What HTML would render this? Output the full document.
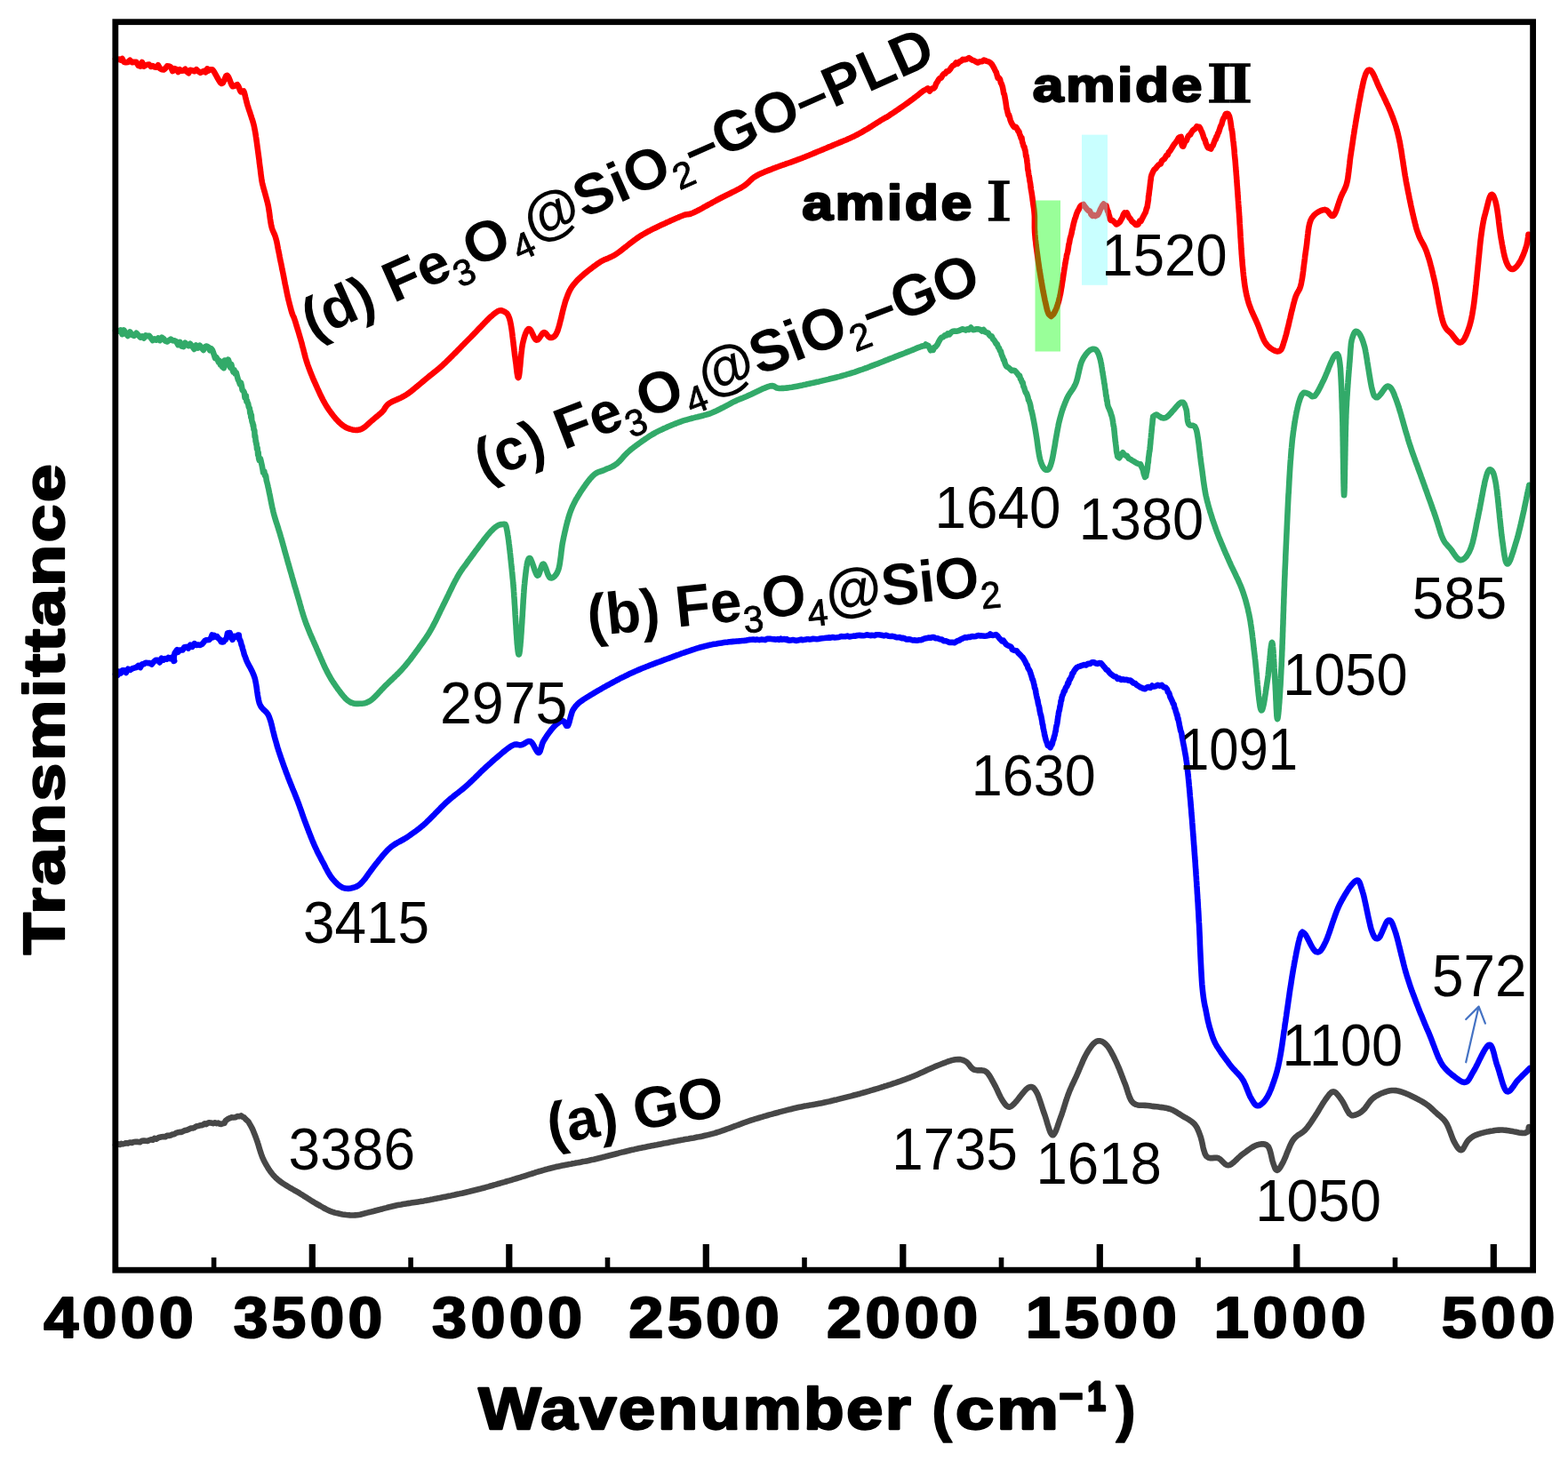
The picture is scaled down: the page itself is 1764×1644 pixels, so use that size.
<!DOCTYPE html>
<html><head><meta charset="utf-8"><title>FTIR spectra</title>
<style>html,body{margin:0;padding:0;background:#fff;overflow:hidden}svg{display:block}</style></head>
<body><svg width="1764" height="1644" viewBox="0 0 1764 1644">
<rect width="1764" height="1644" fill="#fff"/>
<path d="M130.0,1288.5 L132.3,1287.8 L133.5,1287.4 L134.8,1288.0 L136.4,1286.9 L138.1,1287.4 L140.0,1286.9 L141.9,1286.2 L144.0,1286.6 L146.2,1285.6 L148.4,1285.9 L150.7,1285.0 L152.9,1284.7 L155.2,1284.9 L157.5,1285.2 L159.7,1283.8 L161.9,1283.5 L164.0,1283.8 L165.9,1283.9 L167.9,1283.0 L169.9,1282.3 L171.8,1282.8 L173.8,1280.9 L175.8,1281.7 L177.8,1280.4 L179.8,1279.7 L181.9,1279.2 L183.9,1279.0 L185.9,1279.3 L187.9,1277.8 L190.0,1277.9 L192.0,1277.5 L194.0,1276.5 L196.0,1276.2 L198.0,1274.9 L200.0,1274.3 L202.1,1273.9 L204.2,1273.9 L206.3,1272.8 L208.5,1271.9 L210.6,1271.5 L212.8,1270.5 L214.9,1269.5 L217.0,1269.5 L219.1,1268.6 L221.2,1267.2 L223.2,1267.0 L225.1,1266.3 L226.9,1266.3 L228.7,1265.5 L230.4,1264.3 L232.0,1265.1 L234.8,1263.2 L237.3,1263.5 L239.7,1264.1 L241.8,1263.3 L243.8,1264.1 L245.6,1263.6 L247.2,1264.7 L248.8,1264.9 L250.2,1264.4 L252.5,1263.8 L253.7,1261.3 L254.9,1260.2 L257.0,1258.8 L258.6,1258.2 L260.5,1257.4 L262.6,1257.5 L264.8,1257.2 L267.0,1256.1 L269.2,1256.3 L271.2,1255.4 L272.9,1256.7 L274.8,1257.6 L276.5,1259.5 L278.0,1260.9 L279.4,1262.0 L280.7,1264.4 L282.0,1266.6 L283.0,1268.3 L283.8,1270.0 L284.7,1271.9 L285.5,1273.9 L286.3,1275.9 L287.1,1278.0 L287.9,1280.2 L288.7,1282.4 L289.4,1284.3 L290.0,1286.3 L290.7,1288.4 L291.3,1290.5 L291.9,1292.6 L292.6,1294.8 L293.3,1296.9 L294.0,1299.0 L294.7,1301.0 L295.5,1302.9 L296.4,1304.9 L297.3,1306.8 L298.3,1308.7 L299.3,1310.5 L300.3,1312.2 L301.3,1313.9 L302.4,1315.6 L303.5,1317.2 L304.6,1318.7 L305.8,1320.3 L307.0,1321.8 L308.2,1323.2 L309.5,1324.5 L310.8,1325.8 L312.3,1327.1 L314.0,1328.5 L316.0,1330.0 L317.4,1331.0 L318.9,1332.0 L320.5,1333.0 L322.3,1334.1 L324.1,1335.2 L325.9,1336.3 L327.8,1337.4 L329.7,1338.5 L331.6,1339.6 L333.5,1340.7 L335.3,1341.7 L337.0,1342.7 L338.6,1343.7 L340.6,1344.9 L342.5,1346.2 L344.4,1347.3 L346.2,1348.5 L348.0,1349.6 L349.7,1350.8 L351.5,1351.9 L353.2,1352.9 L355.0,1354.0 L356.8,1355.0 L358.6,1356.0 L360.4,1357.0 L362.1,1358.0 L363.8,1359.0 L365.6,1360.0 L367.3,1360.9 L369.1,1361.8 L371.0,1362.6 L372.9,1363.3 L374.9,1364.0 L376.8,1364.6 L378.8,1365.1 L380.9,1365.5 L383.0,1366.0 L385.2,1366.4 L387.3,1366.7 L389.5,1367.0 L391.6,1367.2 L393.7,1367.4 L395.7,1367.5 L397.6,1367.5 L399.7,1367.4 L401.7,1367.3 L403.5,1367.0 L405.2,1366.7 L407.0,1366.2 L408.8,1365.8 L410.8,1365.2 L413.1,1364.6 L415.7,1364.0 L417.3,1363.6 L419.0,1363.2 L420.8,1362.8 L422.6,1362.3 L424.6,1361.8 L426.5,1361.3 L428.5,1360.7 L430.6,1360.2 L432.7,1359.6 L434.8,1359.1 L436.9,1358.5 L439.1,1358.0 L441.2,1357.5 L443.3,1357.0 L445.4,1356.5 L447.5,1356.1 L449.4,1355.7 L451.3,1355.4 L453.2,1355.0 L455.0,1354.7 L456.9,1354.4 L458.8,1354.1 L460.6,1353.9 L462.5,1353.6 L464.4,1353.3 L466.4,1353.0 L468.3,1352.7 L470.4,1352.4 L472.5,1352.1 L474.6,1351.7 L476.8,1351.4 L479.1,1350.9 L481.5,1350.5 L483.2,1350.2 L485.0,1349.8 L486.9,1349.5 L488.8,1349.1 L490.7,1348.7 L492.7,1348.3 L494.7,1347.9 L496.7,1347.5 L498.8,1347.1 L500.8,1346.7 L502.9,1346.3 L505.0,1345.8 L507.2,1345.4 L509.3,1344.9 L511.4,1344.5 L513.5,1344.0 L515.6,1343.6 L517.8,1343.1 L519.8,1342.7 L521.9,1342.2 L524.0,1341.7 L526.0,1341.2 L528.0,1340.8 L530.0,1340.3 L532.0,1339.8 L534.1,1339.3 L536.1,1338.8 L538.1,1338.3 L540.1,1337.8 L542.1,1337.2 L544.0,1336.7 L546.0,1336.2 L548.0,1335.6 L550.0,1335.1 L551.9,1334.5 L553.9,1334.0 L555.8,1333.4 L557.8,1332.9 L559.7,1332.3 L561.7,1331.8 L563.6,1331.2 L565.6,1330.6 L567.5,1330.1 L569.5,1329.5 L571.5,1328.9 L573.4,1328.4 L575.4,1327.8 L577.4,1327.2 L579.3,1326.6 L581.3,1326.0 L583.3,1325.4 L585.3,1324.8 L587.2,1324.2 L589.2,1323.6 L591.2,1323.0 L593.1,1322.3 L595.1,1321.7 L597.1,1321.1 L599.0,1320.5 L601.0,1319.9 L603.0,1319.2 L604.9,1318.6 L606.9,1318.0 L608.9,1317.5 L610.9,1316.9 L612.8,1316.3 L614.8,1315.8 L616.8,1315.2 L618.7,1314.7 L620.7,1314.2 L622.7,1313.7 L624.6,1313.3 L626.6,1312.8 L628.6,1312.4 L630.5,1312.0 L632.5,1311.6 L634.5,1311.2 L636.5,1310.8 L638.4,1310.4 L640.4,1310.0 L642.4,1309.7 L644.3,1309.3 L646.3,1309.0 L648.3,1308.6 L650.2,1308.3 L652.2,1307.9 L654.2,1307.5 L656.1,1307.1 L658.1,1306.8 L660.1,1306.4 L662.1,1306.0 L664.0,1305.5 L666.0,1305.1 L668.0,1304.7 L669.9,1304.2 L671.9,1303.7 L673.9,1303.2 L675.9,1302.7 L677.8,1302.3 L679.8,1301.8 L681.8,1301.2 L683.8,1300.7 L685.7,1300.2 L687.7,1299.7 L689.7,1299.2 L691.7,1298.7 L693.6,1298.2 L695.6,1297.7 L697.6,1297.1 L699.6,1296.6 L701.5,1296.2 L703.5,1295.7 L705.5,1295.2 L707.5,1294.7 L709.4,1294.2 L711.4,1293.8 L713.4,1293.4 L715.3,1292.9 L717.3,1292.5 L719.3,1292.1 L721.3,1291.7 L723.2,1291.3 L725.2,1290.9 L727.2,1290.5 L729.2,1290.1 L731.1,1289.7 L733.1,1289.3 L735.1,1288.9 L737.1,1288.5 L739.0,1288.2 L741.0,1287.8 L743.0,1287.4 L745.0,1287.0 L746.9,1286.6 L748.9,1286.3 L750.9,1285.9 L752.9,1285.5 L754.8,1285.1 L756.8,1284.7 L758.8,1284.3 L760.7,1283.9 L762.7,1283.6 L764.7,1283.2 L766.7,1282.8 L768.6,1282.5 L770.6,1282.1 L772.6,1281.8 L774.5,1281.5 L776.5,1281.1 L778.5,1280.7 L780.4,1280.4 L782.4,1280.0 L784.4,1279.6 L786.3,1279.3 L788.3,1278.9 L790.3,1278.5 L792.2,1278.0 L794.2,1277.6 L796.2,1277.1 L798.2,1276.6 L800.1,1276.1 L802.1,1275.6 L804.0,1275.1 L805.9,1274.5 L807.8,1273.9 L809.7,1273.3 L811.6,1272.7 L813.4,1272.0 L815.3,1271.4 L817.2,1270.7 L819.1,1270.0 L821.0,1269.3 L822.9,1268.6 L824.8,1267.9 L826.7,1267.2 L828.6,1266.5 L830.5,1265.8 L832.4,1265.1 L834.3,1264.4 L836.2,1263.7 L838.0,1263.0 L839.9,1262.3 L841.8,1261.7 L843.7,1261.0 L845.6,1260.4 L847.5,1259.8 L849.5,1259.2 L851.5,1258.6 L853.5,1258.0 L855.5,1257.4 L857.5,1256.8 L859.5,1256.2 L861.6,1255.6 L863.6,1255.0 L865.6,1254.4 L867.6,1253.9 L869.7,1253.3 L871.7,1252.7 L873.7,1252.2 L875.7,1251.7 L877.6,1251.1 L879.6,1250.6 L881.6,1250.1 L883.5,1249.6 L885.4,1249.1 L887.3,1248.6 L889.2,1248.2 L891.0,1247.7 L892.8,1247.3 L895.1,1246.8 L897.2,1246.3 L899.4,1245.8 L901.5,1245.4 L903.5,1245.0 L905.5,1244.6 L907.5,1244.3 L909.4,1243.9 L911.4,1243.6 L913.3,1243.3 L915.3,1242.9 L917.3,1242.6 L919.3,1242.2 L921.3,1241.8 L923.4,1241.4 L925.6,1241.0 L927.7,1240.5 L930.0,1240.0 L931.8,1239.6 L933.7,1239.2 L935.5,1238.7 L937.4,1238.3 L939.3,1237.8 L941.3,1237.4 L943.2,1236.9 L945.2,1236.4 L947.2,1235.9 L949.2,1235.4 L951.2,1234.9 L953.2,1234.4 L955.2,1233.9 L957.3,1233.4 L959.3,1232.8 L961.3,1232.3 L963.4,1231.8 L965.4,1231.2 L967.4,1230.7 L969.4,1230.1 L971.4,1229.5 L973.4,1229.0 L975.4,1228.4 L977.4,1227.8 L979.4,1227.2 L981.4,1226.6 L983.4,1226.0 L985.5,1225.4 L987.5,1224.8 L989.6,1224.2 L991.6,1223.5 L993.7,1222.9 L995.7,1222.2 L997.7,1221.6 L999.8,1220.9 L1001.8,1220.3 L1003.8,1219.6 L1005.8,1218.9 L1007.7,1218.3 L1009.7,1217.6 L1011.6,1217.0 L1013.5,1216.3 L1015.3,1215.6 L1017.2,1215.0 L1019.0,1214.3 L1020.7,1213.7 L1022.9,1212.9 L1025.0,1212.0 L1027.2,1211.2 L1029.3,1210.3 L1031.3,1209.4 L1033.4,1208.5 L1035.4,1207.6 L1037.3,1206.7 L1039.3,1205.9 L1041.1,1205.0 L1043.0,1204.1 L1044.8,1203.3 L1046.6,1202.5 L1048.3,1201.7 L1050.0,1201.0 L1051.6,1200.3 L1053.2,1199.6 L1054.7,1199.0 L1057.3,1198.0 L1059.8,1197.0 L1062.1,1196.1 L1064.3,1195.3 L1066.3,1194.5 L1068.2,1193.9 L1070.1,1193.3 L1071.8,1192.9 L1073.5,1192.5 L1075.1,1192.2 L1078.0,1192.0 L1080.4,1192.1 L1082.5,1192.6 L1084.5,1193.4 L1086.5,1194.4 L1088.1,1195.6 L1089.5,1197.2 L1090.9,1198.9 L1092.2,1200.7 L1093.8,1202.3 L1095.5,1203.5 L1097.6,1204.1 L1099.9,1204.4 L1102.3,1204.4 L1104.7,1204.4 L1107.0,1204.8 L1109.1,1205.8 L1110.5,1206.9 L1111.7,1208.3 L1112.8,1209.9 L1113.9,1211.6 L1115.0,1213.5 L1116.0,1215.4 L1117.1,1217.4 L1118.2,1219.4 L1119.1,1221.1 L1120.1,1222.9 L1121.0,1224.8 L1122.0,1226.8 L1122.9,1228.8 L1123.8,1230.8 L1124.7,1232.7 L1125.6,1234.5 L1126.5,1236.1 L1127.3,1237.5 L1128.8,1239.9 L1130.2,1241.9 L1131.5,1243.5 L1132.8,1244.7 L1134.1,1245.4 L1136.0,1245.6 L1138.0,1244.6 L1140.9,1242.0 L1141.9,1240.9 L1143.1,1239.6 L1144.4,1238.0 L1145.8,1236.2 L1147.2,1234.4 L1148.7,1232.5 L1150.2,1230.6 L1151.7,1228.8 L1153.1,1227.2 L1154.4,1225.8 L1155.7,1224.7 L1156.8,1223.9 L1159.0,1223.0 L1160.9,1223.1 L1162.5,1224.0 L1164.1,1225.8 L1165.8,1228.4 L1166.5,1229.7 L1167.2,1231.1 L1167.9,1232.8 L1168.6,1234.6 L1169.3,1236.6 L1170.0,1238.6 L1170.7,1240.8 L1171.4,1242.9 L1172.1,1245.1 L1172.8,1247.3 L1173.5,1249.4 L1174.2,1251.5 L1174.9,1253.4 L1175.7,1255.6 L1176.4,1257.9 L1177.2,1260.4 L1177.9,1263.0 L1178.7,1265.6 L1179.5,1268.1 L1180.2,1270.4 L1181.0,1272.5 L1181.7,1274.3 L1182.5,1275.7 L1183.2,1276.7 L1184.0,1277.2 L1184.9,1277.1 L1185.8,1276.2 L1186.7,1274.8 L1187.6,1273.0 L1188.5,1270.7 L1189.4,1268.3 L1190.3,1265.6 L1191.2,1263.0 L1192.1,1260.3 L1193.0,1257.9 L1193.6,1256.2 L1194.3,1254.4 L1194.9,1252.5 L1195.6,1250.5 L1196.2,1248.5 L1196.9,1246.4 L1197.5,1244.4 L1198.2,1242.3 L1198.8,1240.2 L1199.5,1238.2 L1200.1,1236.2 L1200.8,1234.3 L1201.4,1232.5 L1202.1,1230.7 L1202.9,1228.6 L1203.7,1226.6 L1204.5,1224.8 L1205.3,1223.0 L1206.1,1221.2 L1206.9,1219.5 L1207.7,1217.8 L1208.6,1216.0 L1209.4,1214.2 L1210.3,1212.3 L1211.2,1210.3 L1212.0,1208.5 L1212.8,1206.6 L1213.7,1204.6 L1214.5,1202.6 L1215.4,1200.5 L1216.3,1198.5 L1217.2,1196.4 L1218.0,1194.4 L1218.9,1192.4 L1219.8,1190.5 L1220.7,1188.7 L1221.6,1187.0 L1222.5,1185.4 L1223.9,1183.0 L1225.3,1180.8 L1226.8,1178.6 L1228.2,1176.7 L1229.6,1175.0 L1231.1,1173.6 L1232.5,1172.5 L1233.9,1171.7 L1235.8,1171.2 L1237.7,1171.3 L1239.6,1171.9 L1241.4,1172.9 L1243.3,1174.4 L1245.2,1176.3 L1246.2,1177.6 L1247.3,1179.0 L1248.3,1180.7 L1249.4,1182.5 L1250.5,1184.4 L1251.5,1186.4 L1252.6,1188.4 L1253.6,1190.5 L1254.6,1192.6 L1255.6,1194.7 L1256.5,1196.7 L1257.3,1198.5 L1258.1,1200.4 L1258.9,1202.2 L1259.7,1204.1 L1260.4,1206.1 L1261.2,1208.0 L1261.9,1209.9 L1262.6,1211.8 L1263.4,1213.8 L1264.1,1215.7 L1264.8,1217.5 L1265.6,1219.4 L1266.4,1221.5 L1267.1,1223.6 L1267.8,1225.8 L1268.5,1228.1 L1269.2,1230.3 L1270.0,1232.4 L1270.7,1234.5 L1271.6,1236.4 L1272.5,1238.1 L1273.5,1239.6 L1274.7,1240.9 L1276.3,1242.1 L1278.0,1242.9 L1279.9,1243.4 L1281.9,1243.7 L1283.9,1243.8 L1286.1,1243.8 L1288.3,1243.9 L1290.5,1244.0 L1292.8,1244.3 L1294.7,1244.6 L1296.8,1244.9 L1298.9,1245.1 L1301.1,1245.3 L1303.3,1245.6 L1305.5,1245.9 L1307.7,1246.1 L1309.8,1246.4 L1311.8,1246.8 L1313.7,1247.2 L1315.5,1247.7 L1317.7,1248.5 L1319.7,1249.3 L1321.6,1250.3 L1323.3,1251.3 L1325.0,1252.4 L1326.6,1253.4 L1328.3,1254.5 L1330.0,1255.6 L1331.8,1256.6 L1333.6,1257.7 L1335.5,1258.7 L1337.3,1259.8 L1339.0,1260.9 L1340.7,1262.1 L1342.2,1263.3 L1343.6,1264.7 L1344.9,1266.3 L1346.0,1268.0 L1347.0,1269.7 L1347.8,1271.6 L1348.7,1273.6 L1349.5,1275.8 L1350.4,1278.3 L1351.0,1280.1 L1351.5,1282.1 L1352.1,1284.4 L1352.6,1286.7 L1353.1,1289.2 L1353.6,1291.5 L1354.2,1293.9 L1354.9,1296.0 L1355.5,1298.0 L1356.3,1299.7 L1357.2,1301.0 L1359.1,1302.5 L1361.3,1303.1 L1363.7,1303.1 L1366.2,1302.9 L1368.6,1302.8 L1370.8,1303.3 L1372.8,1304.5 L1374.6,1306.3 L1376.4,1308.2 L1378.2,1309.9 L1380.1,1311.0 L1382.2,1311.2 L1383.6,1310.8 L1385.1,1310.0 L1386.6,1308.9 L1388.2,1307.6 L1389.8,1306.1 L1391.5,1304.5 L1393.1,1302.9 L1394.8,1301.4 L1396.4,1299.9 L1398.0,1298.7 L1399.8,1297.4 L1401.6,1296.1 L1403.4,1294.7 L1405.2,1293.4 L1407.1,1292.1 L1408.8,1291.0 L1410.6,1290.0 L1412.3,1289.1 L1413.9,1288.5 L1416.3,1287.8 L1418.6,1287.4 L1420.8,1287.3 L1422.9,1287.6 L1424.8,1288.4 L1426.4,1289.7 L1427.3,1291.0 L1428.1,1292.8 L1428.8,1294.8 L1429.4,1297.1 L1430.0,1299.4 L1430.5,1301.8 L1431.0,1304.1 L1431.5,1306.1 L1432.0,1307.8 L1432.9,1310.5 L1433.8,1313.0 L1434.6,1315.0 L1435.6,1316.4 L1436.6,1316.9 L1437.7,1316.5 L1438.9,1315.3 L1440.3,1313.5 L1441.7,1310.9 L1443.4,1307.8 L1444.1,1306.4 L1444.9,1304.7 L1445.7,1302.9 L1446.5,1300.9 L1447.3,1298.8 L1448.2,1296.6 L1449.1,1294.4 L1450.0,1292.2 L1450.9,1290.1 L1451.8,1288.0 L1452.8,1286.1 L1453.7,1284.4 L1454.7,1282.9 L1456.3,1280.9 L1458.0,1279.2 L1459.7,1277.8 L1461.5,1276.6 L1463.3,1275.5 L1465.0,1274.3 L1466.7,1273.0 L1468.3,1271.5 L1469.7,1269.9 L1471.0,1268.3 L1472.3,1266.6 L1473.5,1264.9 L1474.8,1263.1 L1476.0,1261.2 L1477.2,1259.4 L1478.4,1257.5 L1479.7,1255.6 L1480.8,1253.8 L1482.0,1252.0 L1483.2,1250.0 L1484.3,1248.1 L1485.5,1246.1 L1486.7,1244.2 L1487.8,1242.3 L1488.9,1240.6 L1490.0,1239.0 L1491.0,1237.5 L1492.6,1235.3 L1494.2,1233.1 L1495.6,1231.2 L1497.1,1229.8 L1498.5,1228.8 L1500.0,1228.4 L1501.5,1228.8 L1503.0,1229.8 L1504.5,1231.4 L1506.1,1233.3 L1507.6,1235.4 L1509.1,1237.5 L1510.1,1239.0 L1511.2,1240.9 L1512.2,1242.8 L1513.3,1244.9 L1514.3,1247.0 L1515.3,1248.9 L1516.3,1250.7 L1517.3,1252.2 L1518.2,1253.4 L1520.6,1255.1 L1522.6,1255.2 L1525.0,1254.5 L1526.6,1253.9 L1528.4,1253.1 L1530.2,1252.0 L1532.1,1250.6 L1534.1,1248.8 L1535.4,1247.4 L1536.6,1245.8 L1537.9,1244.0 L1539.2,1242.1 L1540.6,1240.2 L1542.0,1238.4 L1543.6,1236.7 L1545.4,1235.2 L1547.1,1234.0 L1549.0,1232.9 L1551.0,1231.8 L1553.1,1230.7 L1555.3,1229.8 L1557.5,1229.0 L1559.6,1228.3 L1561.6,1227.7 L1563.6,1227.3 L1565.9,1227.0 L1568.1,1227.0 L1570.2,1227.1 L1572.3,1227.4 L1574.5,1228.0 L1576.8,1228.7 L1579.4,1229.6 L1581.1,1230.2 L1582.9,1231.0 L1584.8,1231.8 L1586.8,1232.7 L1588.8,1233.7 L1590.9,1234.7 L1592.9,1235.7 L1595.0,1236.8 L1596.9,1237.9 L1598.8,1238.9 L1600.5,1239.9 L1602.1,1240.9 L1604.3,1242.3 L1606.2,1243.7 L1608.0,1245.1 L1609.6,1246.5 L1611.2,1248.0 L1612.7,1249.4 L1614.2,1250.8 L1615.7,1252.2 L1617.2,1253.6 L1618.7,1254.8 L1620.2,1256.0 L1621.6,1257.3 L1623.0,1258.6 L1624.4,1260.0 L1625.7,1261.7 L1627.0,1263.6 L1627.9,1265.2 L1628.8,1267.1 L1629.7,1269.1 L1630.5,1271.2 L1631.4,1273.4 L1632.2,1275.6 L1633.0,1277.8 L1633.8,1279.9 L1634.5,1281.8 L1635.3,1283.6 L1636.1,1285.1 L1637.5,1287.6 L1638.8,1289.8 L1640.1,1291.7 L1641.4,1293.1 L1642.7,1294.0 L1644.0,1294.2 L1645.3,1293.4 L1646.5,1291.8 L1647.8,1289.5 L1649.1,1287.1 L1650.5,1284.8 L1652.0,1282.9 L1653.5,1281.5 L1655.0,1280.2 L1656.6,1279.1 L1658.4,1278.0 L1660.6,1277.1 L1663.3,1276.1 L1664.9,1275.6 L1666.6,1275.1 L1668.5,1274.6 L1670.5,1274.1 L1672.6,1273.6 L1674.8,1273.2 L1677.0,1272.7 L1679.3,1272.4 L1681.6,1272.0 L1683.8,1271.8 L1686.1,1271.6 L1688.3,1271.5 L1690.4,1271.5 L1692.6,1271.7 L1694.9,1271.9 L1697.3,1272.3 L1699.6,1272.7 L1702.0,1273.1 L1704.3,1273.6 L1706.6,1274.0 L1708.7,1274.4 L1710.7,1274.7 L1712.5,1274.9 L1714.1,1275.0 L1715.5,1274.9 L1718.3,1273.7 L1719.5,1271.7 L1719.7,1269.5 L1720.0,1268.0" fill="none" stroke="#474747" stroke-width="6.6" stroke-linejoin="round" stroke-linecap="round"/>
<path d="M130.0,758.5 L131.1,756.9 L132.5,759.7 L134.0,755.6 L135.8,757.6 L137.6,754.2 L139.7,754.3 L141.8,756.9 L144.0,752.7 L146.3,753.9 L148.6,752.4 L151.0,751.6 L153.3,751.0 L155.6,749.0 L157.8,751.1 L160.0,747.2 L162.1,747.2 L164.0,745.7 L166.2,746.1 L168.4,746.1 L170.6,747.6 L172.9,744.7 L175.2,742.8 L177.4,742.8 L179.7,745.4 L181.8,740.7 L183.9,742.6 L185.9,741.0 L187.7,741.8 L189.4,740.0 L191.0,741.2 L192.3,740.1 L193.5,740.6 L196.1,743.7 L195.5,743.9 L195.7,740.7 L195.5,738.2 L195.5,739.5 L196.6,734.9 L199.2,731.2 L200.4,733.8 L201.9,731.5 L203.6,731.5 L205.4,731.5 L207.4,728.2 L209.6,727.9 L211.8,729.5 L214.1,725.6 L216.4,727.7 L218.7,724.1 L221.0,726.0 L223.2,725.5 L225.3,725.9 L227.3,724.9 L229.0,722.8 L230.6,720.9 L232.0,720.2 L235.3,720.0 L237.3,718.0 L238.6,714.5 L239.7,717.1 L241.1,715.0 L242.6,716.6 L244.2,716.2 L245.8,718.4 L247.3,719.4 L248.8,722.3 L250.2,722.5 L251.5,722.3 L252.7,720.2 L253.9,719.8 L255.0,717.6 L256.0,712.4 L257.0,712.2 L258.6,712.0 L260.0,716.8 L261.5,719.9 L263.6,715.8 L265.8,716.7 L267.8,714.6 L268.7,714.6 L269.4,719.7 L270.1,720.2 L270.8,722.1 L271.7,726.0 L272.3,726.9 L272.9,729.7 L273.6,731.9 L274.2,733.9 L274.9,736.9 L275.7,738.7 L276.5,741.0 L277.4,743.3 L278.2,745.1 L279.1,746.9 L280.0,748.6 L281.0,750.4 L282.0,752.2 L282.9,754.0 L283.9,756.0 L284.8,758.1 L285.7,760.3 L286.5,762.6 L287.0,764.4 L287.4,766.4 L287.8,768.5 L288.2,770.7 L288.6,773.0 L288.9,775.3 L289.2,777.7 L289.6,780.0 L289.9,782.3 L290.3,784.5 L290.7,786.6 L291.1,788.5 L291.6,790.4 L292.1,792.0 L293.2,794.4 L294.4,796.2 L295.7,797.7 L297.1,799.1 L298.5,800.3 L299.9,801.7 L301.2,803.4 L302.3,805.5 L303.0,807.2 L303.6,809.0 L304.3,811.0 L304.9,813.0 L305.4,815.2 L306.0,817.4 L306.5,819.6 L307.0,821.8 L307.6,824.0 L308.1,826.1 L308.6,828.1 L309.1,830.0 L309.7,832.1 L310.3,834.1 L310.8,835.9 L311.3,837.7 L311.8,839.5 L312.3,841.2 L312.9,843.0 L313.5,845.0 L314.2,847.0 L314.9,849.2 L315.5,850.9 L316.1,852.7 L316.7,854.5 L317.4,856.4 L318.1,858.3 L318.8,860.3 L319.5,862.3 L320.2,864.3 L321.0,866.3 L321.7,868.3 L322.4,870.3 L323.2,872.2 L323.9,874.1 L324.6,876.0 L325.4,877.9 L326.1,879.9 L326.9,881.7 L327.6,883.6 L328.4,885.4 L329.1,887.2 L329.9,889.1 L330.6,890.9 L331.4,892.7 L332.1,894.6 L332.9,896.5 L333.6,898.4 L334.4,900.3 L335.1,902.1 L335.8,904.0 L336.5,905.9 L337.2,907.8 L337.9,909.8 L338.6,911.7 L339.3,913.6 L339.9,915.6 L340.6,917.5 L341.3,919.5 L342.0,921.4 L342.7,923.3 L343.4,925.2 L344.1,927.0 L344.8,929.0 L345.6,930.9 L346.3,932.9 L347.1,934.8 L347.8,936.8 L348.6,938.7 L349.3,940.6 L350.1,942.5 L350.8,944.3 L351.6,946.2 L352.3,947.9 L353.1,949.7 L353.8,951.4 L354.8,953.6 L355.8,955.7 L356.7,957.7 L357.7,959.7 L358.7,961.6 L359.7,963.5 L360.7,965.4 L361.6,967.2 L362.6,969.1 L363.6,970.9 L364.7,972.9 L365.7,975.0 L366.7,977.0 L367.8,979.0 L368.8,980.9 L369.9,982.8 L371.0,984.6 L372.1,986.3 L373.3,987.9 L374.7,989.6 L376.2,991.3 L377.7,992.9 L379.2,994.4 L380.8,995.8 L382.4,997.0 L384.0,998.0 L385.5,998.8 L387.5,999.5 L389.6,999.8 L391.7,999.9 L393.7,999.7 L395.7,999.3 L397.6,998.8 L399.6,998.2 L401.5,997.4 L403.2,996.4 L405.2,994.9 L407.4,992.7 L408.4,991.5 L409.5,990.2 L410.7,988.8 L411.8,987.2 L413.0,985.6 L414.2,983.8 L415.5,982.1 L416.8,980.3 L418.1,978.5 L419.4,976.7 L420.7,975.0 L422.0,973.3 L423.3,971.7 L424.7,970.0 L426.0,968.3 L427.4,966.5 L428.8,964.8 L430.2,963.1 L431.6,961.4 L433.1,959.8 L434.5,958.2 L436.0,956.6 L437.5,955.2 L439.0,953.8 L440.7,952.4 L442.4,951.2 L444.1,950.0 L445.9,949.0 L447.7,947.9 L449.5,947.0 L451.3,946.0 L453.1,945.0 L454.9,944.0 L456.7,942.9 L458.5,941.7 L460.1,940.6 L461.7,939.5 L463.2,938.4 L464.8,937.3 L466.3,936.2 L467.9,935.1 L469.5,933.9 L471.1,932.7 L472.7,931.4 L474.4,930.0 L476.1,928.6 L477.9,927.0 L479.2,925.8 L480.5,924.5 L481.9,923.2 L483.3,921.8 L484.7,920.4 L486.2,918.9 L487.7,917.4 L489.1,915.9 L490.6,914.3 L492.1,912.8 L493.6,911.3 L495.1,909.8 L496.5,908.3 L498.0,906.8 L499.5,905.4 L500.9,904.0 L502.3,902.7 L504.0,901.2 L505.7,899.7 L507.3,898.3 L509.0,897.0 L510.7,895.6 L512.3,894.3 L514.0,893.0 L515.6,891.8 L517.2,890.5 L518.9,889.2 L520.5,887.9 L522.1,886.5 L523.8,885.1 L525.4,883.7 L526.9,882.3 L528.4,880.9 L529.9,879.5 L531.3,878.1 L532.8,876.7 L534.3,875.3 L535.7,873.8 L537.2,872.3 L538.7,870.9 L540.1,869.4 L541.7,867.9 L543.2,866.4 L544.8,865.0 L546.4,863.5 L548.0,862.0 L549.5,860.7 L551.1,859.3 L552.7,857.8 L554.4,856.3 L556.1,854.8 L557.9,853.3 L559.7,851.7 L561.4,850.2 L563.2,848.7 L564.9,847.3 L566.6,845.9 L568.2,844.6 L569.8,843.3 L571.3,842.2 L572.7,841.2 L574.0,840.3 L575.2,839.5 L578.5,837.9 L581.0,837.6 L582.9,838.0 L584.6,838.4 L586.6,838.3 L588.7,837.4 L590.8,836.1 L592.9,834.8 L594.8,834.0 L596.8,834.2 L598.2,835.4 L599.6,837.4 L601.0,839.9 L602.3,842.4 L603.6,844.7 L604.8,846.4 L605.9,847.0 L606.8,846.5 L607.6,845.2 L608.2,843.3 L608.9,841.0 L609.6,838.5 L610.4,836.0 L611.5,833.8 L612.5,832.1 L613.7,830.3 L614.9,828.4 L616.2,826.5 L617.6,824.6 L619.0,822.7 L620.3,821.0 L621.7,819.4 L622.9,818.0 L624.7,816.2 L626.5,814.5 L628.3,813.2 L630.0,812.1 L631.6,811.3 L633.0,811.0 L634.7,812.1 L636.1,814.7 L637.3,816.8 L638.7,816.8 L639.3,815.9 L639.8,814.5 L640.4,812.7 L640.9,810.6 L641.5,808.4 L642.1,806.0 L642.8,803.7 L643.5,801.4 L644.4,799.3 L645.5,797.5 L646.6,796.0 L647.6,794.6 L648.7,793.4 L649.8,792.2 L651.0,791.1 L652.5,789.9 L654.2,788.7 L656.2,787.3 L658.6,785.8 L661.4,784.0 L662.7,783.2 L664.0,782.4 L665.5,781.5 L667.0,780.6 L668.6,779.6 L670.3,778.6 L672.0,777.6 L673.7,776.6 L675.6,775.6 L677.4,774.5 L679.3,773.4 L681.3,772.3 L683.2,771.2 L685.2,770.2 L687.2,769.1 L689.2,768.0 L691.3,766.9 L693.3,765.8 L695.3,764.8 L697.3,763.7 L699.2,762.7 L701.2,761.8 L703.1,760.8 L705.0,759.9 L706.8,759.0 L708.7,758.1 L710.6,757.2 L712.5,756.4 L714.4,755.5 L716.2,754.7 L718.1,753.9 L720.0,753.1 L721.9,752.3 L723.8,751.5 L725.7,750.8 L727.6,750.0 L729.5,749.3 L731.3,748.5 L733.2,747.8 L735.1,747.1 L737.0,746.4 L738.9,745.7 L740.8,745.0 L742.7,744.3 L744.5,743.6 L746.4,742.9 L748.3,742.2 L750.2,741.5 L752.1,740.8 L754.1,740.1 L756.0,739.4 L758.0,738.6 L760.0,737.9 L762.0,737.2 L763.9,736.5 L765.9,735.7 L767.9,735.0 L769.9,734.3 L771.8,733.6 L773.8,733.0 L775.8,732.3 L777.8,731.6 L779.7,731.0 L781.7,730.3 L783.7,729.7 L785.7,729.1 L787.6,728.5 L789.6,728.0 L791.6,727.5 L793.6,726.9 L795.5,726.5 L797.5,726.0 L799.6,725.6 L801.7,725.1 L803.7,724.7 L805.9,724.4 L808.0,724.0 L810.1,723.7 L812.2,723.4 L814.3,723.1 L816.4,722.8 L818.6,722.6 L820.7,722.3 L822.8,722.1 L824.9,721.9 L826.9,721.7 L829.0,721.5 L831.0,721.4 L833.1,721.2 L835.1,721.0 L837.0,720.9 L839.0,720.7 L840.9,720.3 L842.8,719.9 L845.1,719.7 L847.4,719.6 L849.7,720.0 L851.9,719.6 L854.2,720.1 L856.4,719.6 L858.6,719.8 L860.8,720.1 L863.0,718.9 L865.1,718.8 L867.2,718.9 L869.2,719.2 L871.1,719.4 L873.0,719.6 L874.9,719.1 L876.7,719.9 L878.4,718.7 L880.0,719.7 L882.4,719.0 L884.0,719.9 L885.2,719.1 L886.1,720.4 L887.0,720.3 L888.1,720.8 L889.7,720.4 L892.1,720.0 L895.4,720.9 L900.0,720.1 L901.3,719.6 L902.7,720.2 L904.2,720.0 L905.8,719.8 L907.4,719.3 L909.2,719.2 L911.0,719.6 L912.9,719.3 L914.8,718.8 L916.8,719.0 L918.9,719.2 L921.0,719.0 L923.1,718.5 L925.3,718.2 L927.5,718.0 L929.8,717.7 L932.1,717.4 L934.4,717.6 L936.8,717.0 L939.1,717.5 L941.5,717.3 L943.8,717.0 L946.2,716.1 L948.6,716.3 L950.9,716.2 L953.3,715.6 L955.6,716.5 L957.9,716.1 L960.2,715.6 L962.5,715.7 L964.7,715.0 L966.9,714.9 L969.1,715.1 L971.2,715.3 L973.2,715.0 L975.2,714.2 L977.2,714.8 L979.0,715.1 L980.8,714.9 L982.6,715.0 L984.2,715.1 L985.8,714.2 L988.8,714.3 L991.7,714.7 L994.4,715.4 L997.0,714.8 L999.5,715.8 L1001.9,716.0 L1004.1,715.9 L1006.3,716.4 L1008.4,717.1 L1010.4,717.3 L1012.3,717.1 L1014.2,718.2 L1016.0,717.8 L1017.7,718.4 L1019.4,719.4 L1021.0,719.6 L1022.6,719.3 L1024.1,719.5 L1025.7,720.1 L1027.2,720.5 L1028.7,720.4 L1031.6,720.7 L1034.1,720.3 L1036.3,720.1 L1038.2,719.4 L1040.0,718.6 L1041.6,718.2 L1043.2,717.9 L1044.9,717.6 L1046.7,717.8 L1048.7,717.1 L1050.7,717.1 L1052.8,718.3 L1054.9,718.3 L1057.1,719.2 L1059.4,719.5 L1061.6,721.1 L1063.7,721.2 L1065.8,721.8 L1067.8,722.9 L1069.7,722.9 L1071.5,722.7 L1073.8,723.2 L1075.7,722.0 L1077.3,721.1 L1078.9,720.8 L1080.7,719.5 L1082.9,718.5 L1085.8,717.1 L1087.4,717.5 L1089.3,716.9 L1091.3,716.9 L1093.5,716.0 L1095.8,716.2 L1098.1,715.9 L1100.5,715.0 L1102.9,715.4 L1105.3,715.5 L1107.7,715.8 L1109.9,715.5 L1112.0,715.1 L1114.0,713.5 L1115.7,714.7 L1117.3,714.9 L1120.4,714.1 L1122.7,716.1 L1124.4,718.4 L1125.9,719.9 L1127.2,721.4 L1128.7,720.7 L1130.6,723.4 L1132.2,725.4 L1133.8,726.2 L1135.4,726.9 L1137.3,727.7 L1138.8,730.8 L1140.4,731.6 L1142.0,732.0 L1143.7,732.3 L1145.4,734.6 L1147.0,736.2 L1148.7,737.9 L1149.7,739.0 L1150.6,739.8 L1151.6,741.4 L1152.6,743.2 L1153.6,744.9 L1154.6,747.3 L1155.6,748.3 L1156.6,751.8 L1157.5,753.1 L1158.5,754.8 L1159.3,757.4 L1160.2,760.0 L1160.8,761.9 L1161.4,764.5 L1161.9,764.7 L1162.5,766.9 L1163.0,769.1 L1163.5,770.8 L1164.0,774.2 L1164.5,774.8 L1165.0,776.7 L1165.5,780.0 L1166.0,782.6 L1166.5,784.9 L1166.9,786.4 L1167.4,788.0 L1167.9,791.4 L1168.3,793.1 L1168.8,794.5 L1169.3,796.8 L1169.7,799.8 L1170.2,802.1 L1170.6,804.2 L1171.0,804.5 L1171.5,807.2 L1171.9,809.6 L1172.3,811.3 L1172.7,814.9 L1173.2,815.4 L1173.6,819.4 L1174.0,820.7 L1174.4,822.7 L1174.8,824.0 L1175.1,827.0 L1175.5,827.7 L1175.9,829.9 L1176.9,833.5 L1177.9,835.9 L1178.8,839.0 L1179.8,839.4 L1180.7,840.0 L1181.6,841.1 L1182.2,839.8 L1182.8,838.3 L1183.4,837.9 L1184.1,835.7 L1184.7,832.8 L1185.3,832.3 L1185.9,828.9 L1186.6,827.3 L1187.3,823.3 L1187.7,822.7 L1188.0,819.3 L1188.4,817.3 L1188.8,816.0 L1189.2,814.5 L1189.5,812.4 L1189.9,809.8 L1190.3,806.2 L1190.7,804.5 L1191.1,801.3 L1191.5,799.8 L1191.9,798.9 L1192.4,795.3 L1192.8,794.0 L1193.2,791.7 L1193.6,788.6 L1194.1,788.1 L1194.5,785.0 L1195.3,782.5 L1196.1,781.0 L1197.0,777.7 L1197.8,777.6 L1198.7,774.4 L1199.5,773.1 L1200.4,772.2 L1201.3,768.4 L1202.1,768.9 L1203.0,764.9 L1204.0,764.1 L1204.8,762.2 L1205.6,761.0 L1206.4,757.6 L1207.3,757.3 L1208.4,754.9 L1209.8,753.0 L1211.6,750.9 L1213.2,750.2 L1215.0,749.6 L1217.1,748.8 L1219.4,748.1 L1221.7,748.5 L1224.1,746.8 L1226.4,747.0 L1228.7,745.2 L1230.8,745.2 L1232.8,746.5 L1234.5,746.9 L1236.7,746.0 L1238.6,746.3 L1240.2,748.0 L1241.7,749.8 L1243.1,751.4 L1244.5,753.4 L1246.0,754.1 L1247.6,756.2 L1249.2,757.9 L1250.7,759.2 L1252.3,760.4 L1253.9,761.3 L1255.6,761.6 L1257.4,763.9 L1259.3,763.3 L1261.3,765.0 L1263.3,764.3 L1265.4,765.0 L1267.5,764.9 L1269.6,765.7 L1271.7,765.6 L1273.5,767.1 L1275.3,768.6 L1277.1,769.0 L1278.9,770.9 L1280.7,771.9 L1282.4,773.1 L1284.2,773.8 L1286.0,774.7 L1288.0,775.2 L1290.1,773.7 L1292.2,773.0 L1294.2,773.9 L1296.2,771.5 L1298.1,772.6 L1300.0,772.3 L1302.4,770.8 L1304.7,771.6 L1307.0,770.9 L1309.2,773.3 L1311.4,773.8 L1312.2,774.7 L1313.1,775.8 L1313.9,778.8 L1314.8,779.2 L1315.6,781.1 L1316.5,784.5 L1317.3,785.8 L1318.2,787.8 L1319.0,789.5 L1319.8,791.8 L1320.6,792.4 L1321.4,796.6 L1322.2,797.6 L1322.9,801.2 L1323.4,801.8 L1323.9,804.7 L1324.4,804.3 L1324.9,808.6 L1325.4,808.3 L1325.9,811.3 L1326.4,813.2 L1326.9,816.4 L1327.3,817.8 L1327.8,820.5 L1328.2,822.3 L1328.6,823.2 L1329.1,824.6 L1329.5,826.7 L1329.9,830.0 L1330.3,831.5 L1330.7,833.5 L1331.0,835.5 L1331.4,837.4 L1331.8,839.4 L1332.2,841.3 L1332.5,843.1 L1332.8,844.8 L1333.1,846.5 L1333.4,848.1 L1333.7,849.8 L1334.0,851.4 L1334.3,853.1 L1334.5,854.9 L1334.8,856.8 L1335.1,858.9 L1335.4,861.1 L1335.6,863.6 L1335.9,866.2 L1336.3,869.1 L1336.6,872.3 L1336.8,873.8 L1336.9,875.3 L1337.1,876.9 L1337.2,878.6 L1337.4,880.2 L1337.6,882.0 L1337.7,883.8 L1337.9,885.6 L1338.1,887.4 L1338.2,889.3 L1338.4,891.3 L1338.6,893.2 L1338.7,895.2 L1338.9,897.3 L1339.1,899.3 L1339.3,901.4 L1339.5,903.5 L1339.6,905.6 L1339.8,907.8 L1340.0,909.9 L1340.2,912.1 L1340.3,914.3 L1340.5,916.4 L1340.7,918.6 L1340.9,920.8 L1341.1,923.0 L1341.2,925.2 L1341.4,927.4 L1341.6,929.6 L1341.7,931.8 L1341.9,934.0 L1342.1,936.1 L1342.2,938.3 L1342.4,940.4 L1342.6,942.5 L1342.7,944.6 L1342.9,946.7 L1343.0,948.8 L1343.2,950.8 L1343.4,952.8 L1343.5,954.8 L1343.6,956.8 L1343.8,958.8 L1343.9,960.9 L1344.1,962.9 L1344.2,964.9 L1344.4,966.9 L1344.5,968.9 L1344.7,970.9 L1344.8,972.9 L1344.9,974.9 L1345.1,976.9 L1345.2,978.9 L1345.4,981.0 L1345.5,983.0 L1345.6,985.0 L1345.8,987.0 L1345.9,989.0 L1346.0,991.0 L1346.2,993.0 L1346.3,995.0 L1346.4,997.0 L1346.6,999.0 L1346.7,1001.1 L1346.8,1003.1 L1346.9,1005.1 L1347.1,1007.1 L1347.2,1009.1 L1347.3,1011.1 L1347.4,1013.1 L1347.6,1015.1 L1347.7,1017.1 L1347.8,1019.1 L1347.9,1021.2 L1348.0,1023.2 L1348.2,1025.2 L1348.3,1027.2 L1348.4,1029.2 L1348.5,1031.2 L1348.6,1033.3 L1348.7,1035.4 L1348.8,1037.5 L1349.0,1039.6 L1349.1,1041.7 L1349.2,1043.9 L1349.3,1046.1 L1349.4,1048.3 L1349.5,1050.5 L1349.6,1052.7 L1349.7,1054.9 L1349.8,1057.1 L1349.9,1059.3 L1349.9,1061.5 L1350.0,1063.7 L1350.1,1065.9 L1350.2,1068.1 L1350.3,1070.2 L1350.4,1072.4 L1350.5,1074.6 L1350.6,1076.7 L1350.7,1078.8 L1350.8,1080.9 L1350.9,1082.9 L1351.0,1085.0 L1351.1,1086.9 L1351.2,1088.9 L1351.3,1090.8 L1351.4,1092.7 L1351.5,1094.6 L1351.6,1096.4 L1351.7,1098.2 L1351.8,1099.9 L1351.9,1101.6 L1352.0,1103.2 L1352.1,1104.7 L1352.2,1106.2 L1352.3,1107.7 L1352.6,1111.0 L1352.9,1114.0 L1353.2,1116.8 L1353.5,1119.3 L1353.8,1121.6 L1354.1,1123.7 L1354.4,1125.7 L1354.7,1127.5 L1355.0,1129.2 L1355.3,1130.8 L1355.6,1132.4 L1356.0,1133.9 L1356.3,1135.4 L1356.6,1136.9 L1356.9,1138.4 L1357.2,1140.0 L1357.7,1142.5 L1358.1,1144.8 L1358.6,1147.0 L1359.0,1149.1 L1359.5,1151.0 L1360.0,1152.9 L1360.4,1154.7 L1360.9,1156.4 L1361.5,1158.2 L1362.0,1160.0 L1362.7,1162.2 L1363.3,1164.2 L1363.9,1166.1 L1364.6,1168.0 L1365.3,1169.9 L1366.2,1171.9 L1367.2,1174.0 L1368.5,1176.3 L1369.4,1177.9 L1370.5,1179.5 L1371.6,1181.2 L1372.8,1183.0 L1374.0,1184.9 L1375.3,1186.7 L1376.7,1188.6 L1378.0,1190.5 L1379.4,1192.3 L1380.7,1194.1 L1382.0,1195.8 L1383.2,1197.5 L1384.4,1199.0 L1385.9,1200.8 L1387.3,1202.5 L1388.8,1204.1 L1390.2,1205.6 L1391.6,1207.0 L1393.0,1208.5 L1394.3,1209.9 L1395.6,1211.5 L1396.8,1213.1 L1398.0,1214.8 L1399.0,1216.5 L1399.9,1218.4 L1400.8,1220.3 L1401.7,1222.4 L1402.5,1224.4 L1403.3,1226.4 L1404.1,1228.4 L1404.8,1230.3 L1405.6,1232.1 L1406.3,1233.8 L1407.1,1235.2 L1408.5,1237.6 L1409.7,1239.7 L1411.0,1241.6 L1412.2,1243.0 L1413.6,1244.0 L1415.0,1244.3 L1416.6,1244.0 L1418.3,1243.1 L1420.0,1241.6 L1421.8,1239.8 L1423.6,1237.6 L1425.2,1235.2 L1426.1,1233.7 L1426.9,1232.1 L1427.8,1230.4 L1428.6,1228.5 L1429.5,1226.5 L1430.3,1224.5 L1431.1,1222.4 L1431.8,1220.3 L1432.6,1218.2 L1433.3,1216.1 L1434.0,1214.0 L1434.6,1212.2 L1435.2,1210.4 L1435.7,1208.6 L1436.2,1206.9 L1436.7,1205.2 L1437.1,1203.4 L1437.6,1201.5 L1438.1,1199.5 L1438.5,1197.4 L1439.0,1195.1 L1439.5,1192.7 L1440.0,1190.0 L1440.3,1188.4 L1440.6,1186.7 L1440.9,1184.9 L1441.2,1183.1 L1441.5,1181.3 L1441.8,1179.4 L1442.1,1177.4 L1442.4,1175.4 L1442.7,1173.4 L1443.0,1171.3 L1443.3,1169.2 L1443.6,1167.1 L1443.9,1164.9 L1444.2,1162.7 L1444.5,1160.5 L1444.9,1158.3 L1445.2,1156.1 L1445.5,1153.8 L1445.8,1151.5 L1446.2,1149.3 L1446.5,1147.0 L1446.8,1145.1 L1447.1,1143.2 L1447.3,1141.3 L1447.6,1139.3 L1447.9,1137.3 L1448.2,1135.3 L1448.5,1133.2 L1448.8,1131.1 L1449.1,1129.0 L1449.4,1126.9 L1449.7,1124.8 L1450.0,1122.7 L1450.3,1120.6 L1450.6,1118.4 L1450.9,1116.3 L1451.2,1114.2 L1451.5,1112.1 L1451.9,1110.1 L1452.2,1108.0 L1452.5,1106.0 L1452.8,1104.0 L1453.1,1102.0 L1453.4,1100.1 L1453.7,1098.2 L1454.0,1096.4 L1454.3,1094.6 L1454.7,1092.2 L1455.1,1089.7 L1455.6,1087.3 L1456.0,1084.9 L1456.4,1082.5 L1456.9,1080.1 L1457.3,1077.7 L1457.8,1075.4 L1458.2,1073.2 L1458.6,1071.0 L1459.1,1068.8 L1459.5,1066.8 L1459.9,1064.8 L1460.3,1063.0 L1460.7,1061.2 L1461.1,1059.5 L1461.5,1058.0 L1461.8,1056.6 L1462.2,1055.4 L1463.8,1050.2 L1465.2,1048.7 L1467.4,1050.2 L1468.2,1051.1 L1469.2,1052.5 L1470.2,1054.3 L1471.3,1056.4 L1472.4,1058.6 L1473.6,1060.9 L1474.8,1063.2 L1476.0,1065.4 L1477.2,1067.4 L1478.4,1069.0 L1479.5,1070.3 L1480.5,1071.0 L1482.1,1071.4 L1483.5,1071.2 L1484.9,1070.4 L1486.3,1068.9 L1487.7,1066.8 L1489.3,1064.0 L1491.0,1060.6 L1491.6,1059.3 L1492.2,1057.9 L1492.8,1056.4 L1493.5,1054.7 L1494.1,1052.9 L1494.8,1051.1 L1495.5,1049.1 L1496.2,1047.1 L1496.9,1045.0 L1497.6,1042.9 L1498.3,1040.8 L1499.0,1038.6 L1499.8,1036.4 L1500.5,1034.3 L1501.3,1032.1 L1502.0,1030.0 L1502.8,1028.0 L1503.5,1026.0 L1504.3,1024.0 L1505.1,1022.2 L1505.8,1020.4 L1506.6,1018.8 L1507.7,1016.6 L1508.8,1014.4 L1510.0,1012.2 L1511.3,1010.0 L1512.5,1007.8 L1513.8,1005.7 L1515.0,1003.7 L1516.3,1001.7 L1517.5,999.8 L1518.8,998.1 L1519.9,996.5 L1521.1,995.1 L1522.2,993.8 L1523.2,992.8 L1524.1,991.9 L1525.0,991.3 L1526.6,990.6 L1527.9,990.8 L1528.9,991.9 L1529.8,993.6 L1530.7,996.1 L1531.6,999.3 L1532.8,1003.0 L1533.2,1004.4 L1533.7,1006.0 L1534.1,1007.7 L1534.6,1009.6 L1535.0,1011.6 L1535.5,1013.8 L1536.0,1016.0 L1536.5,1018.3 L1537.0,1020.7 L1537.5,1023.1 L1538.0,1025.5 L1538.5,1027.9 L1539.0,1030.3 L1539.5,1032.6 L1540.0,1034.9 L1540.5,1037.1 L1541.0,1039.2 L1541.4,1041.2 L1541.9,1043.0 L1542.3,1044.7 L1542.8,1046.2 L1543.2,1047.5 L1544.9,1051.9 L1546.4,1054.6 L1547.9,1056.0 L1549.4,1056.2 L1551.1,1055.4 L1552.0,1054.5 L1552.9,1053.1 L1553.8,1051.2 L1554.8,1049.0 L1555.8,1046.6 L1556.9,1044.1 L1557.9,1041.8 L1558.9,1039.6 L1559.8,1037.8 L1560.7,1036.5 L1561.6,1035.8 L1562.8,1035.5 L1563.9,1035.8 L1564.9,1036.6 L1565.8,1038.2 L1566.9,1040.5 L1568.0,1043.6 L1569.4,1047.5 L1569.8,1048.8 L1570.3,1050.2 L1570.7,1051.8 L1571.2,1053.4 L1571.7,1055.2 L1572.2,1057.1 L1572.7,1059.0 L1573.2,1061.0 L1573.7,1063.1 L1574.3,1065.3 L1574.8,1067.5 L1575.3,1069.7 L1575.9,1071.9 L1576.4,1074.2 L1577.0,1076.4 L1577.6,1078.7 L1578.1,1080.9 L1578.7,1083.2 L1579.2,1085.3 L1579.8,1087.5 L1580.3,1089.6 L1580.9,1091.6 L1581.4,1093.6 L1582.0,1095.4 L1582.5,1097.2 L1583.2,1099.4 L1583.9,1101.6 L1584.6,1103.8 L1585.3,1105.9 L1585.9,1107.9 L1586.6,1109.9 L1587.3,1111.9 L1588.0,1113.8 L1588.7,1115.8 L1589.4,1117.6 L1590.1,1119.5 L1590.8,1121.3 L1591.5,1123.1 L1592.2,1125.0 L1592.8,1126.7 L1593.5,1128.5 L1594.2,1130.3 L1594.9,1132.1 L1595.6,1133.9 L1596.4,1136.0 L1597.2,1138.1 L1598.0,1140.1 L1598.9,1142.1 L1599.7,1144.1 L1600.5,1146.1 L1601.3,1148.0 L1602.1,1149.9 L1602.9,1151.9 L1603.7,1153.8 L1604.5,1155.7 L1605.3,1157.6 L1606.2,1159.5 L1607.0,1161.4 L1607.8,1163.3 L1608.6,1165.3 L1609.4,1167.3 L1610.2,1169.3 L1611.0,1171.4 L1611.8,1173.5 L1612.6,1175.6 L1613.4,1177.7 L1614.2,1179.8 L1615.0,1181.9 L1615.8,1184.0 L1616.6,1186.0 L1617.4,1188.0 L1618.2,1189.9 L1619.1,1191.7 L1619.9,1193.4 L1620.8,1195.1 L1621.7,1196.6 L1623.0,1198.7 L1624.4,1200.5 L1625.9,1202.3 L1627.4,1203.9 L1628.9,1205.4 L1630.4,1206.7 L1631.9,1208.0 L1633.3,1209.2 L1634.7,1210.3 L1636.1,1211.3 L1637.4,1212.3 L1639.6,1214.0 L1641.7,1215.5 L1643.7,1216.8 L1645.6,1217.6 L1647.4,1217.9 L1649.2,1217.6 L1650.6,1216.8 L1651.8,1215.7 L1652.9,1214.1 L1654.0,1212.2 L1655.2,1209.9 L1656.6,1207.4 L1658.3,1204.5 L1659.2,1203.0 L1660.1,1201.3 L1661.1,1199.3 L1662.2,1197.2 L1663.3,1194.9 L1664.4,1192.5 L1665.6,1190.2 L1666.8,1187.8 L1668.0,1185.5 L1669.1,1183.4 L1670.3,1181.4 L1671.4,1179.6 L1672.5,1178.1 L1673.5,1176.9 L1674.4,1176.1 L1675.3,1175.7 L1676.3,1175.8 L1677.3,1176.5 L1678.1,1177.8 L1678.9,1179.5 L1679.6,1181.6 L1680.3,1183.9 L1681.0,1186.5 L1681.6,1189.1 L1682.3,1191.8 L1683.0,1194.5 L1683.7,1197.0 L1684.5,1199.3 L1685.2,1201.2 L1685.8,1203.2 L1686.5,1205.4 L1687.1,1207.7 L1687.8,1210.0 L1688.5,1212.4 L1689.2,1214.8 L1689.9,1217.1 L1690.6,1219.3 L1691.3,1221.3 L1692.0,1223.2 L1692.7,1224.8 L1693.5,1226.2 L1694.2,1227.3 L1695.0,1228.0 L1696.3,1228.4 L1697.7,1227.9 L1699.1,1226.8 L1700.6,1225.1 L1702.1,1223.1 L1703.6,1220.9 L1705.1,1218.7 L1706.5,1216.7 L1708.0,1215.0 L1709.5,1213.5 L1711.2,1211.8 L1712.8,1210.2 L1714.5,1208.5 L1716.2,1206.8 L1717.7,1205.3 L1719.1,1203.9 L1720.2,1202.8 L1721.1,1201.9" fill="none" stroke="#0000ff" stroke-width="6.6" stroke-linejoin="round" stroke-linecap="round"/>
<path d="M130.0,372.0 L132.8,372.7 L134.1,372.4 L135.7,371.4 L137.5,376.2 L139.4,371.5 L141.6,375.0 L143.8,377.9 L146.2,373.5 L148.6,376.9 L151.0,377.8 L153.4,374.8 L155.7,377.3 L158.0,379.7 L159.9,378.5 L161.9,380.5 L163.8,377.4 L165.8,378.1 L167.8,377.7 L169.8,380.3 L171.8,383.1 L173.9,381.3 L175.9,382.7 L177.9,380.6 L179.9,383.1 L182.0,379.6 L184.0,381.1 L186.0,383.7 L188.0,384.5 L190.1,383.1 L192.1,381.6 L194.2,383.2 L196.2,383.4 L198.3,384.3 L200.4,388.1 L202.4,384.9 L204.4,389.6 L206.4,390.1 L208.4,385.7 L210.3,388.1 L212.2,389.2 L214.0,386.8 L216.3,389.7 L218.5,392.9 L220.6,388.4 L222.8,391.5 L224.9,388.8 L226.9,391.7 L228.8,393.9 L230.7,390.1 L232.6,389.5 L234.3,390.6 L236.0,394.2 L237.6,392.3 L239.1,394.3 L240.6,398.6 L242.0,403.1 L243.4,402.1 L244.6,404.1 L245.8,407.5 L247.0,406.0 L248.0,410.5 L249.1,409.2 L250.0,412.7 L251.8,414.1 L252.8,405.5 L253.9,405.8 L256.0,406.6 L256.7,404.7 L257.5,406.5 L258.4,412.2 L259.3,413.6 L260.3,410.0 L261.3,415.2 L262.4,418.6 L263.5,416.2 L264.6,420.5 L265.7,419.2 L266.8,423.3 L267.9,427.4 L268.9,429.1 L270.0,432.4 L270.9,430.4 L271.8,434.1 L272.7,439.2 L273.4,439.3 L274.1,440.3 L274.8,441.9 L275.5,447.2 L276.1,446.7 L276.8,445.2 L277.4,451.8 L278.0,451.0 L278.6,453.5 L279.2,454.2 L279.7,457.5 L280.3,458.8 L280.8,459.3 L281.3,464.6 L281.8,463.4 L282.3,469.4 L282.8,466.8 L283.3,473.3 L283.8,475.4 L284.3,475.6 L284.7,479.0 L285.1,478.3 L285.5,483.4 L285.9,483.6 L286.3,484.5 L286.6,491.1 L287.0,489.8 L287.3,491.7 L287.6,496.8 L287.9,495.9 L288.3,499.8 L288.6,498.9 L289.0,505.0 L289.3,503.5 L289.7,504.2 L290.2,511.7 L290.6,508.8 L291.1,515.6 L291.7,517.9 L292.3,517.7 L292.9,516.1 L293.5,518.4 L294.1,521.2 L294.8,524.3 L295.4,527.5 L296.1,531.6 L296.7,529.8 L297.3,530.5 L298.0,534.9 L298.6,534.3 L299.2,536.0 L299.8,540.8 L300.3,542.5 L300.8,544.5 L301.3,546.5 L301.7,548.5 L302.2,550.5 L302.6,552.6 L303.0,554.7 L303.5,556.8 L303.9,558.9 L304.3,561.0 L304.7,563.1 L305.1,565.1 L305.5,567.1 L305.9,569.1 L306.3,571.0 L306.8,572.9 L307.2,574.7 L307.6,576.5 L308.2,578.8 L308.8,581.0 L309.4,583.0 L310.0,585.0 L310.6,586.9 L311.2,588.7 L311.8,590.5 L312.4,592.4 L313.0,594.3 L313.6,596.4 L314.3,598.6 L315.0,600.9 L315.5,602.7 L316.0,604.5 L316.6,606.3 L317.1,608.3 L317.7,610.2 L318.2,612.2 L318.8,614.3 L319.4,616.3 L319.9,618.4 L320.5,620.5 L321.1,622.6 L321.7,624.7 L322.3,626.8 L322.9,628.9 L323.4,630.9 L324.0,633.0 L324.6,635.0 L325.2,637.0 L325.7,639.0 L326.3,641.0 L326.9,643.1 L327.5,645.1 L328.1,647.1 L328.6,649.1 L329.2,651.1 L329.8,653.2 L330.4,655.2 L330.9,657.2 L331.5,659.2 L332.1,661.2 L332.7,663.1 L333.3,665.1 L333.8,667.1 L334.4,669.0 L335.0,671.0 L335.6,673.1 L336.2,675.1 L336.8,677.1 L337.3,679.1 L337.9,681.1 L338.5,683.1 L339.0,685.1 L339.6,687.1 L340.2,689.0 L340.8,691.0 L341.4,692.9 L342.0,694.9 L342.7,696.8 L343.3,698.7 L344.0,700.6 L344.7,702.6 L345.5,704.6 L346.3,706.6 L347.1,708.6 L347.9,710.6 L348.7,712.6 L349.6,714.5 L350.4,716.5 L351.3,718.4 L352.1,720.3 L353.0,722.2 L353.8,724.2 L354.6,726.0 L355.5,727.9 L356.3,729.8 L357.2,731.8 L358.0,733.8 L358.9,735.8 L359.8,737.8 L360.6,739.9 L361.5,741.8 L362.4,743.8 L363.2,745.8 L364.1,747.7 L364.9,749.6 L365.8,751.4 L366.7,753.2 L367.5,754.9 L368.4,756.6 L369.5,758.7 L370.6,760.7 L371.7,762.6 L372.8,764.5 L373.9,766.3 L375.0,768.0 L376.2,769.7 L377.3,771.3 L378.4,772.9 L379.5,774.5 L380.6,776.0 L382.0,777.8 L383.3,779.6 L384.7,781.3 L386.0,783.0 L387.4,784.5 L388.7,786.0 L390.1,787.3 L391.4,788.4 L392.8,789.4 L394.8,790.5 L396.9,791.2 L398.9,791.7 L400.9,791.9 L403.0,791.9 L405.0,791.8 L407.0,791.7 L408.8,791.5 L410.7,791.2 L412.6,790.6 L414.7,789.6 L417.0,788.2 L418.2,787.3 L419.5,786.2 L420.8,785.0 L422.2,783.6 L423.6,782.2 L425.0,780.7 L426.5,779.1 L428.0,777.5 L429.4,775.9 L431.0,774.3 L432.5,772.7 L434.0,771.2 L435.4,769.8 L436.9,768.4 L438.4,766.9 L439.9,765.5 L441.5,764.0 L443.0,762.5 L444.6,761.0 L446.1,759.5 L447.7,758.0 L449.2,756.4 L450.7,754.9 L452.2,753.3 L453.6,751.7 L455.0,750.1 L456.4,748.5 L457.7,746.8 L459.1,745.1 L460.4,743.5 L461.8,741.8 L463.1,740.0 L464.4,738.3 L465.6,736.6 L466.9,734.9 L468.1,733.2 L469.4,731.5 L470.6,729.8 L471.8,728.1 L473.0,726.5 L474.1,724.9 L475.3,723.3 L476.4,721.7 L477.5,720.1 L478.6,718.5 L479.7,716.9 L480.8,715.2 L481.9,713.5 L483.0,711.7 L484.1,709.8 L485.2,707.9 L486.1,706.3 L487.0,704.6 L487.9,702.9 L488.8,701.1 L489.8,699.3 L490.7,697.5 L491.6,695.6 L492.5,693.8 L493.4,691.9 L494.3,690.0 L495.2,688.1 L496.1,686.2 L497.1,684.3 L498.0,682.4 L498.9,680.5 L499.8,678.7 L500.7,676.9 L501.6,675.0 L502.6,673.1 L503.5,671.1 L504.5,669.2 L505.4,667.2 L506.3,665.3 L507.3,663.4 L508.2,661.5 L509.1,659.6 L510.0,657.8 L510.9,656.0 L511.8,654.3 L512.7,652.6 L513.6,651.0 L514.4,649.5 L515.6,647.4 L516.7,645.5 L517.7,643.9 L518.6,642.5 L519.6,641.1 L520.6,639.6 L521.7,638.1 L523.0,636.4 L524.5,634.4 L526.2,632.0 L527.1,630.7 L528.2,629.3 L529.3,627.8 L530.5,626.2 L531.7,624.5 L533.0,622.7 L534.3,620.9 L535.7,619.0 L537.1,617.2 L538.5,615.3 L539.9,613.4 L541.3,611.6 L542.7,609.7 L544.0,607.9 L545.4,606.2 L546.7,604.6 L547.9,603.0 L549.1,601.5 L550.3,600.2 L551.3,599.0 L552.3,597.9 L554.9,595.3 L557.2,593.3 L559.2,591.9 L561.0,590.9 L562.6,590.3 L564.1,590.1 L565.4,590.0 L567.2,589.7 L568.4,589.9 L569.4,592.1 L570.6,597.9 L570.8,599.1 L571.0,600.4 L571.2,601.8 L571.5,603.3 L571.7,604.9 L571.9,606.5 L572.2,608.2 L572.4,610.0 L572.6,611.9 L572.9,613.8 L573.1,615.8 L573.3,617.8 L573.6,619.9 L573.8,622.1 L574.1,624.3 L574.3,626.5 L574.5,628.8 L574.8,631.1 L575.0,633.4 L575.3,635.8 L575.5,638.2 L575.8,640.6 L576.0,643.1 L576.3,645.5 L576.5,648.0 L576.7,650.4 L577.0,652.9 L577.2,655.4 L577.4,657.2 L577.5,659.1 L577.7,661.1 L577.9,663.3 L578.0,665.5 L578.2,667.8 L578.3,670.2 L578.5,672.7 L578.7,675.2 L578.8,677.8 L579.0,680.4 L579.2,683.1 L579.3,685.8 L579.5,688.5 L579.6,691.2 L579.8,693.9 L580.0,696.6 L580.1,699.3 L580.3,702.0 L580.5,704.6 L580.6,707.2 L580.8,709.7 L580.9,712.2 L581.1,714.6 L581.3,716.9 L581.4,719.2 L581.6,721.3 L581.7,723.3 L581.9,725.3 L582.1,727.1 L582.2,728.7 L582.4,730.3 L582.6,731.7 L582.7,732.9 L582.9,734.0 L583.0,734.9 L583.2,735.6 L583.4,736.1 L583.5,736.4 L583.7,736.5 L583.9,736.4 L584.0,736.0 L584.2,735.5 L584.4,734.7 L584.5,733.8 L584.7,732.6 L584.9,731.3 L585.0,729.8 L585.2,728.2 L585.4,726.4 L585.5,724.4 L585.7,722.4 L585.9,720.2 L586.1,718.0 L586.2,715.6 L586.4,713.2 L586.6,710.6 L586.7,708.1 L586.9,705.4 L587.1,702.7 L587.3,700.0 L587.4,697.3 L587.6,694.5 L587.8,691.8 L587.9,689.0 L588.1,686.3 L588.3,683.6 L588.4,680.9 L588.6,678.3 L588.7,675.7 L588.9,673.2 L589.1,670.8 L589.2,668.4 L589.4,666.2 L589.5,664.1 L589.7,662.1 L589.8,660.2 L590.0,658.4 L590.2,656.8 L590.3,655.4 L590.7,651.4 L591.1,647.8 L591.5,644.4 L591.9,641.5 L592.2,638.8 L592.6,636.5 L592.9,634.4 L593.3,632.7 L593.7,631.2 L594.1,630.0 L594.5,629.1 L595.0,628.4 L595.5,628.0 L596.3,628.2 L597.1,629.4 L598.0,631.5 L599.0,634.0 L600.0,636.9 L601.0,639.9 L601.9,642.6 L602.9,645.0 L603.8,646.8 L604.6,647.6 L605.7,647.2 L606.6,645.4 L607.5,642.8 L608.4,639.8 L609.3,637.1 L610.2,635.1 L611.2,634.5 L612.1,635.3 L613.0,637.0 L614.0,639.4 L614.9,642.1 L615.9,644.9 L616.9,647.4 L617.9,649.2 L619.0,650.2 L620.5,650.4 L622.1,649.8 L623.8,648.6 L625.4,646.7 L626.9,644.2 L628.2,641.0 L628.6,639.6 L629.0,638.0 L629.4,636.3 L629.7,634.5 L630.0,632.5 L630.3,630.4 L630.6,628.3 L630.9,626.1 L631.2,623.8 L631.4,621.6 L631.7,619.3 L632.0,617.0 L632.3,614.8 L632.6,612.6 L633.0,610.4 L633.4,608.4 L633.8,606.4 L634.2,604.3 L634.7,602.3 L635.1,600.2 L635.6,598.1 L636.1,596.1 L636.5,594.0 L637.0,592.0 L637.5,590.0 L638.0,588.0 L638.6,586.0 L639.1,584.1 L639.6,582.2 L640.2,580.4 L640.7,578.7 L641.3,577.0 L642.1,574.7 L643.0,572.5 L643.8,570.5 L644.7,568.6 L645.6,566.8 L646.5,565.0 L647.4,563.2 L648.4,561.4 L649.5,559.7 L650.5,557.9 L651.7,556.0 L652.7,554.3 L653.8,552.6 L655.0,550.9 L656.2,549.1 L657.5,547.3 L658.7,545.5 L660.0,543.7 L661.3,542.0 L662.6,540.4 L663.8,538.8 L665.1,537.4 L666.3,536.1 L667.4,535.0 L669.4,533.3 L671.3,532.1 L673.2,531.2 L675.0,530.6 L676.8,530.0 L678.7,529.4 L680.5,528.6 L682.3,527.7 L684.2,527.0 L686.0,526.3 L687.8,525.5 L689.7,524.6 L691.6,523.4 L693.6,522.0 L694.9,520.9 L696.2,519.7 L697.4,518.4 L698.7,517.1 L700.0,515.6 L701.3,514.1 L702.7,512.6 L704.2,511.0 L705.8,509.4 L707.5,507.9 L709.3,506.3 L710.7,505.1 L712.3,503.9 L713.9,502.7 L715.5,501.4 L717.2,500.2 L719.0,498.9 L720.8,497.6 L722.6,496.3 L724.5,495.0 L726.3,493.7 L728.2,492.5 L730.0,491.3 L731.8,490.1 L733.6,489.0 L735.4,488.0 L737.3,486.9 L739.2,485.9 L741.2,484.9 L743.2,483.9 L745.2,483.0 L747.2,482.0 L749.2,481.2 L751.1,480.3 L753.0,479.5 L754.9,478.7 L756.7,478.0 L758.4,477.3 L760.1,476.6 L761.6,476.0 L764.0,475.1 L766.1,474.3 L767.9,473.7 L769.6,473.2 L771.3,472.7 L773.1,472.2 L775.0,471.6 L777.3,471.0 L779.0,470.5 L780.7,470.1 L782.6,469.6 L784.5,469.2 L786.4,468.7 L788.4,468.3 L790.4,467.8 L792.5,467.2 L794.6,466.6 L796.6,466.0 L798.7,465.3 L800.8,464.5 L802.6,463.7 L804.5,462.9 L806.5,462.0 L808.5,461.0 L810.5,460.0 L812.5,458.9 L814.6,457.9 L816.6,456.8 L818.5,455.8 L820.4,454.8 L822.2,453.8 L823.9,452.9 L825.5,452.1 L827.0,451.4 L829.4,450.3 L831.3,449.5 L832.8,448.9 L834.2,448.3 L835.7,447.8 L837.6,447.0 L840.0,446.0 L841.5,445.3 L843.2,444.5 L845.0,443.7 L847.0,442.7 L849.1,441.7 L851.2,440.7 L853.3,439.7 L855.4,438.7 L857.5,437.7 L859.6,436.9 L861.5,436.1 L863.3,435.4 L864.9,434.8 L866.3,434.4 L869.2,434.1 L871.0,434.7 L872.4,435.7 L874.0,436.6 L876.7,437.0 L878.2,437.0 L879.7,436.9 L881.2,436.9 L882.8,436.8 L884.5,436.6 L886.4,436.4 L888.5,436.1 L890.9,435.8 L893.5,435.3 L896.6,434.7 L900.0,434.0 L901.4,433.7 L902.9,433.4 L904.5,433.0 L906.2,432.7 L907.9,432.3 L909.6,431.9 L911.5,431.5 L913.3,431.1 L915.2,430.7 L917.2,430.3 L919.2,429.8 L921.3,429.4 L923.3,428.9 L925.4,428.4 L927.5,427.9 L929.7,427.4 L931.8,426.9 L934.0,426.3 L936.2,425.8 L938.3,425.3 L940.5,424.7 L942.6,424.1 L944.8,423.6 L946.9,423.0 L949.0,422.4 L951.1,421.8 L953.2,421.2 L955.2,420.6 L957.2,420.0 L959.1,419.4 L961.1,418.8 L963.1,418.1 L965.1,417.4 L967.1,416.7 L969.1,416.0 L971.2,415.3 L973.2,414.5 L975.3,413.8 L977.4,413.0 L979.5,412.2 L981.5,411.4 L983.6,410.6 L985.6,409.8 L987.7,409.1 L989.7,408.3 L991.7,407.5 L993.7,406.7 L995.6,405.9 L997.6,405.2 L999.5,404.4 L1001.3,403.7 L1003.1,403.0 L1004.9,402.3 L1006.6,401.6 L1008.3,400.9 L1009.9,400.3 L1011.5,399.7 L1013.0,399.1 L1014.4,398.6 L1017.3,397.5 L1020.0,396.4 L1022.6,395.4 L1024.9,394.5 L1027.1,393.6 L1029.2,392.7 L1031.1,391.9 L1032.9,391.2 L1034.5,390.6 L1036.1,390.0 L1037.6,389.5 L1038.9,389.1 L1040.2,389.3 L1041.5,387.5 L1044.5,389.2 L1045.9,392.0 L1046.9,394.2 L1048.7,393.4 L1049.8,393.9 L1050.9,390.9 L1052.1,390.8 L1053.3,389.3 L1054.6,387.7 L1056.0,384.7 L1057.6,381.8 L1059.2,379.8 L1061.0,379.4 L1063.0,377.2 L1064.6,377.5 L1066.3,375.3 L1068.1,376.3 L1070.0,374.1 L1072.0,372.8 L1074.1,372.6 L1076.1,372.7 L1078.3,372.3 L1080.4,371.4 L1082.4,370.3 L1084.4,370.7 L1086.4,371.6 L1088.3,370.3 L1090.0,371.1 L1092.3,368.6 L1094.5,371.1 L1096.7,370.9 L1098.8,370.2 L1100.8,370.4 L1102.8,370.9 L1104.7,372.5 L1106.5,371.0 L1108.3,373.4 L1110.0,374.1 L1111.5,374.6 L1113.0,377.0 L1114.4,378.4 L1115.7,378.4 L1117.1,381.6 L1118.3,382.7 L1119.5,384.6 L1120.7,386.9 L1121.8,387.2 L1122.9,390.5 L1124.0,391.7 L1125.0,394.8 L1125.9,395.1 L1126.7,398.7 L1127.5,400.6 L1128.3,402.4 L1129.0,405.1 L1129.7,405.0 L1130.5,408.4 L1131.2,410.2 L1132.1,412.0 L1133.0,412.8 L1134.6,413.6 L1136.3,415.2 L1138.1,417.1 L1140.0,416.8 L1141.8,417.3 L1143.5,419.1 L1145.0,420.9 L1146.1,422.6 L1147.1,422.8 L1148.0,426.5 L1148.9,427.2 L1149.7,430.3 L1150.6,430.4 L1151.4,434.9 L1152.2,436.1 L1153.0,439.2 L1153.7,441.1 L1154.4,442.5 L1155.0,442.5 L1155.7,445.1 L1156.4,446.8 L1157.0,450.2 L1157.6,450.8 L1158.3,452.9 L1158.9,454.7 L1159.4,456.9 L1160.0,461.1 L1160.5,462.0 L1160.9,463.9 L1161.4,465.9 L1161.8,467.8 L1162.2,469.8 L1162.6,471.9 L1163.0,473.9 L1163.4,476.0 L1163.8,478.2 L1164.2,480.4 L1164.6,482.7 L1165.0,485.0 L1165.3,486.9 L1165.6,488.8 L1165.9,490.9 L1166.3,493.0 L1166.6,495.2 L1166.9,497.5 L1167.2,499.7 L1167.5,501.9 L1167.8,504.2 L1168.1,506.3 L1168.5,508.4 L1168.8,510.4 L1169.1,512.3 L1169.5,514.1 L1169.8,515.7 L1170.2,517.2 L1171.2,520.5 L1172.3,523.3 L1173.4,525.5 L1174.6,527.1 L1175.7,528.2 L1176.8,528.7 L1178.0,528.8 L1179.2,528.4 L1180.4,527.1 L1181.6,524.4 L1183.0,520.0 L1183.3,518.7 L1183.7,517.3 L1184.0,515.7 L1184.4,514.0 L1184.7,512.2 L1185.1,510.2 L1185.4,508.2 L1185.8,506.1 L1186.2,503.9 L1186.6,501.7 L1187.0,499.4 L1187.3,497.1 L1187.7,494.8 L1188.1,492.5 L1188.5,490.3 L1188.9,488.0 L1189.3,485.8 L1189.7,483.7 L1190.1,481.6 L1190.5,479.6 L1190.8,477.8 L1191.2,476.0 L1191.6,474.4 L1192.3,471.7 L1192.9,469.3 L1193.6,466.9 L1194.2,464.7 L1194.8,462.6 L1195.5,460.7 L1196.1,458.8 L1196.8,457.0 L1197.5,455.2 L1198.1,453.6 L1198.8,451.9 L1199.5,450.2 L1200.2,448.6 L1201.3,446.4 L1202.4,444.4 L1203.5,442.6 L1204.7,440.9 L1205.9,439.2 L1207.0,437.5 L1208.1,435.7 L1209.2,433.7 L1210.2,431.5 L1210.8,429.8 L1211.4,427.9 L1212.0,425.9 L1212.5,423.8 L1213.0,421.6 L1213.5,419.4 L1214.0,417.2 L1214.5,415.1 L1215.0,413.0 L1215.5,410.9 L1216.1,409.0 L1216.7,407.3 L1217.4,405.7 L1218.6,403.3 L1220.0,401.1 L1221.5,398.9 L1223.0,397.1 L1224.5,395.5 L1226.0,394.2 L1227.5,393.3 L1228.8,392.9 L1230.4,392.8 L1231.9,393.0 L1233.3,393.9 L1234.6,395.7 L1236.0,398.6 L1237.4,402.9 L1237.7,404.2 L1238.1,405.6 L1238.4,407.2 L1238.8,408.9 L1239.1,410.7 L1239.4,412.6 L1239.8,414.7 L1240.1,417.9 L1240.5,418.7 L1240.8,421.8 L1241.2,423.4 L1241.5,425.9 L1241.9,427.8 L1242.2,430.8 L1242.6,432.2 L1242.9,434.6 L1243.2,437.5 L1243.6,438.9 L1243.9,441.7 L1244.2,445.0 L1244.5,444.8 L1244.8,446.9 L1245.1,450.4 L1245.4,450.3 L1245.7,452.3 L1246.0,455.1 L1246.8,457.8 L1247.5,459.3 L1248.1,460.6 L1248.7,462.3 L1249.3,463.5 L1249.9,465.9 L1250.5,467.7 L1251.1,469.3 L1251.7,472.5 L1252.0,474.1 L1252.2,475.7 L1252.5,477.7 L1252.8,479.9 L1253.1,480.0 L1253.3,482.8 L1253.6,485.0 L1253.9,488.3 L1254.1,490.5 L1254.4,492.7 L1254.7,496.3 L1255.0,497.7 L1255.2,499.7 L1255.5,502.1 L1255.8,504.7 L1256.0,507.2 L1256.3,509.0 L1256.6,510.4 L1256.9,511.3 L1257.1,513.1 L1257.4,514.0 L1259.2,515.2 L1261.0,512.5 L1263.1,509.3 L1264.6,511.2 L1266.2,512.5 L1267.9,513.0 L1269.8,516.0 L1271.7,516.8 L1273.5,518.0 L1275.5,519.2 L1277.5,520.4 L1279.5,521.5 L1281.4,522.2 L1283.0,522.3 L1284.1,524.9 L1285.1,526.9 L1285.9,528.9 L1286.7,532.9 L1287.4,534.8 L1288.1,536.9 L1288.8,535.4 L1289.2,535.9 L1289.5,534.0 L1289.9,531.6 L1290.2,531.4 L1290.6,528.4 L1290.9,526.8 L1291.2,523.3 L1291.5,520.7 L1291.8,520.3 L1292.1,515.6 L1292.5,513.1 L1292.8,510.5 L1293.1,507.7 L1293.3,507.7 L1293.5,506.2 L1293.8,503.4 L1294.0,500.7 L1294.2,499.6 L1294.4,496.5 L1294.7,493.3 L1294.9,492.3 L1295.1,489.1 L1295.4,486.6 L1295.6,484.4 L1295.8,482.3 L1296.0,479.6 L1296.2,478.6 L1296.4,477.2 L1296.6,474.6 L1296.8,471.5 L1297.0,471.6 L1297.2,468.6 L1297.4,468.5 L1300.0,466.9 L1301.3,466.5 L1302.9,467.6 L1304.8,468.9 L1306.8,470.0 L1309.1,470.5 L1311.4,470.0 L1312.7,469.2 L1314.1,468.1 L1315.6,466.6 L1317.1,465.0 L1318.7,463.1 L1320.4,461.3 L1322.0,459.4 L1323.5,457.6 L1325.0,456.0 L1326.3,454.6 L1327.6,453.5 L1328.6,452.9 L1330.9,452.7 L1332.3,454.3 L1333.3,456.9 L1334.3,460.0 L1334.8,461.7 L1335.1,463.9 L1335.3,466.2 L1335.6,468.7 L1335.8,471.1 L1336.1,473.5 L1336.6,475.5 L1337.2,477.2 L1338.6,478.5 L1340.3,478.7 L1342.2,478.8 L1344.1,479.8 L1345.7,483.0 L1346.1,484.2 L1346.4,485.6 L1346.7,487.2 L1347.0,488.9 L1347.3,490.7 L1347.6,492.6 L1347.9,494.6 L1348.2,496.7 L1348.5,498.8 L1348.8,501.0 L1349.0,503.3 L1349.3,505.6 L1349.6,507.9 L1349.9,510.1 L1350.1,512.4 L1350.4,514.6 L1350.7,516.8 L1350.9,519.0 L1351.2,521.0 L1351.5,523.0 L1351.8,525.1 L1352.1,527.2 L1352.4,529.4 L1352.7,531.4 L1352.9,533.5 L1353.2,535.6 L1353.5,537.6 L1353.7,539.7 L1354.0,541.7 L1354.3,543.8 L1354.6,545.8 L1354.9,547.8 L1355.2,549.9 L1355.6,551.9 L1355.9,553.9 L1356.3,556.0 L1356.7,558.0 L1357.2,560.1 L1357.7,562.1 L1358.1,564.0 L1358.7,566.0 L1359.2,568.0 L1359.7,570.0 L1360.3,571.9 L1360.9,573.9 L1361.4,575.9 L1362.1,577.9 L1362.7,579.9 L1363.3,581.8 L1363.9,583.8 L1364.6,585.8 L1365.2,587.7 L1365.9,589.7 L1366.6,591.6 L1367.2,593.5 L1367.9,595.4 L1368.6,597.3 L1369.3,599.3 L1370.1,601.3 L1370.8,603.2 L1371.6,605.2 L1372.4,607.1 L1373.2,609.1 L1374.0,611.0 L1374.8,612.9 L1375.6,614.8 L1376.4,616.7 L1377.2,618.6 L1378.0,620.5 L1378.8,622.4 L1379.7,624.2 L1380.5,626.1 L1381.3,627.9 L1382.1,629.8 L1382.9,631.6 L1383.8,633.5 L1384.6,635.4 L1385.5,637.3 L1386.4,639.2 L1387.3,641.0 L1388.2,642.9 L1389.1,644.7 L1390.0,646.6 L1390.8,648.4 L1391.7,650.2 L1392.6,652.0 L1393.4,653.8 L1394.2,655.7 L1395.0,657.5 L1395.8,659.3 L1396.5,661.2 L1397.2,663.0 L1397.9,664.9 L1398.6,666.9 L1399.2,668.7 L1399.8,670.6 L1400.4,672.5 L1401.0,674.3 L1401.5,676.2 L1402.0,678.0 L1402.5,679.9 L1403.0,681.8 L1403.5,683.8 L1404.0,685.8 L1404.4,687.9 L1404.9,690.0 L1405.4,692.2 L1405.8,694.5 L1406.1,696.3 L1406.5,698.1 L1406.8,699.9 L1407.0,701.7 L1407.3,703.5 L1407.6,705.4 L1407.9,707.3 L1408.1,709.2 L1408.4,711.1 L1408.6,713.1 L1408.9,715.1 L1409.1,717.1 L1409.4,719.2 L1409.6,721.3 L1409.9,723.5 L1410.1,725.7 L1410.4,727.9 L1410.6,730.2 L1410.9,732.5 L1411.2,734.9 L1411.5,737.4 L1411.7,739.2 L1411.9,741.2 L1412.2,743.2 L1412.4,745.4 L1412.6,747.7 L1412.8,750.0 L1413.1,752.4 L1413.3,754.9 L1413.5,757.4 L1413.8,760.0 L1414.0,762.6 L1414.2,765.1 L1414.5,767.7 L1414.7,770.3 L1415.0,772.8 L1415.2,775.3 L1415.4,777.8 L1415.7,780.1 L1415.9,782.4 L1416.2,784.6 L1416.4,786.7 L1416.7,788.7 L1416.9,790.5 L1417.2,792.3 L1417.4,793.8 L1417.6,795.2 L1417.9,796.4 L1418.1,797.4 L1418.4,798.2 L1418.6,798.8 L1419.1,799.4 L1419.5,799.3 L1420.0,798.6 L1420.4,797.5 L1420.9,795.8 L1421.4,793.8 L1421.9,791.5 L1422.3,788.9 L1422.8,786.1 L1423.2,783.2 L1423.7,780.2 L1424.1,777.1 L1424.6,774.1 L1425.0,771.2 L1425.4,768.5 L1425.8,766.0 L1426.1,764.1 L1426.4,761.9 L1426.7,759.6 L1426.9,757.2 L1427.2,754.6 L1427.5,752.0 L1427.7,749.2 L1428.0,746.5 L1428.3,743.8 L1428.5,741.1 L1428.8,738.5 L1429.0,735.9 L1429.2,733.6 L1429.5,731.3 L1429.7,729.3 L1429.9,727.5 L1430.2,726.0 L1430.4,724.7 L1430.6,723.8 L1430.8,723.2 L1431.0,723.0 L1431.2,723.2 L1431.4,723.7 L1431.6,724.6 L1431.8,725.8 L1431.9,727.3 L1432.1,729.0 L1432.3,731.0 L1432.5,733.1 L1432.6,735.4 L1432.8,737.9 L1432.9,740.4 L1433.1,743.1 L1433.2,745.8 L1433.4,748.5 L1433.5,751.2 L1433.7,753.9 L1433.8,756.6 L1434.0,759.1 L1434.1,761.6 L1434.3,763.9 L1434.4,766.0 L1434.5,768.2 L1434.7,770.5 L1434.8,773.0 L1434.9,775.6 L1435.1,778.4 L1435.2,781.2 L1435.3,784.0 L1435.4,786.8 L1435.6,789.6 L1435.7,792.4 L1435.8,795.0 L1435.9,797.5 L1436.1,799.9 L1436.2,802.0 L1436.3,803.9 L1436.4,805.6 L1436.6,807.0 L1436.7,808.0 L1436.9,808.7 L1437.0,809.0 L1437.2,808.9 L1437.3,808.6 L1437.5,808.0 L1437.6,807.3 L1437.7,806.5 L1437.9,805.5 L1438.0,804.3 L1438.2,803.0 L1438.3,801.5 L1438.5,799.9 L1438.6,798.2 L1438.8,796.4 L1438.9,794.4 L1439.1,792.3 L1439.3,790.1 L1439.4,787.8 L1439.6,785.5 L1439.7,783.0 L1439.9,780.5 L1440.1,777.8 L1440.2,775.1 L1440.4,772.4 L1440.6,769.5 L1440.7,766.7 L1440.9,763.7 L1441.0,760.8 L1441.2,757.8 L1441.3,754.8 L1441.5,751.7 L1441.6,750.2 L1441.7,748.6 L1441.7,747.0 L1441.8,745.4 L1441.9,743.8 L1441.9,742.1 L1442.0,740.4 L1442.1,738.6 L1442.2,736.8 L1442.2,735.0 L1442.3,733.2 L1442.4,731.4 L1442.5,729.5 L1442.5,727.6 L1442.6,725.7 L1442.7,723.7 L1442.7,721.8 L1442.8,719.8 L1442.9,717.8 L1443.0,715.8 L1443.0,713.8 L1443.1,711.7 L1443.2,709.6 L1443.2,707.6 L1443.3,705.5 L1443.4,703.4 L1443.5,701.3 L1443.5,699.1 L1443.6,697.0 L1443.7,694.9 L1443.7,692.7 L1443.8,690.6 L1443.9,688.4 L1444.0,686.2 L1444.0,684.1 L1444.1,681.9 L1444.2,679.7 L1444.3,677.5 L1444.3,675.4 L1444.4,673.2 L1444.5,671.0 L1444.6,668.9 L1444.6,666.7 L1444.7,664.5 L1444.8,662.4 L1444.9,660.2 L1445.0,658.1 L1445.0,656.0 L1445.1,653.8 L1445.2,651.7 L1445.3,649.6 L1445.4,647.5 L1445.5,645.5 L1445.5,643.4 L1445.6,641.3 L1445.7,639.3 L1445.8,637.3 L1445.9,635.3 L1446.0,633.3 L1446.1,631.2 L1446.2,629.1 L1446.2,627.0 L1446.3,625.0 L1446.4,622.8 L1446.5,620.7 L1446.6,618.6 L1446.7,616.4 L1446.8,614.3 L1446.9,612.1 L1447.0,610.0 L1447.1,607.8 L1447.2,605.6 L1447.3,603.4 L1447.4,601.2 L1447.5,599.1 L1447.6,596.9 L1447.7,594.7 L1447.8,592.5 L1447.9,590.3 L1448.0,588.1 L1448.1,585.9 L1448.2,583.8 L1448.3,581.6 L1448.4,579.4 L1448.5,577.3 L1448.6,575.1 L1448.7,573.0 L1448.8,570.9 L1448.9,568.8 L1449.0,566.7 L1449.1,564.6 L1449.2,562.5 L1449.3,560.5 L1449.4,558.5 L1449.5,556.4 L1449.7,554.4 L1449.8,552.5 L1449.9,550.5 L1450.0,548.6 L1450.1,546.7 L1450.2,544.8 L1450.3,542.9 L1450.4,541.1 L1450.5,539.3 L1450.6,537.5 L1450.7,535.8 L1450.8,534.1 L1450.9,532.4 L1451.0,530.7 L1451.1,529.1 L1451.2,527.5 L1451.3,526.0 L1451.4,524.5 L1451.5,523.0 L1451.7,519.8 L1452.0,516.7 L1452.2,513.7 L1452.4,511.0 L1452.6,508.3 L1452.8,505.8 L1453.1,503.3 L1453.3,501.0 L1453.5,498.8 L1453.7,496.7 L1453.9,494.7 L1454.1,492.7 L1454.4,490.9 L1454.6,489.1 L1454.8,487.3 L1455.0,485.6 L1455.3,484.0 L1455.5,482.4 L1455.7,480.8 L1456.0,479.2 L1456.2,477.7 L1456.4,476.2 L1456.7,474.6 L1456.9,473.1 L1457.2,471.5 L1457.7,468.7 L1458.2,466.1 L1458.6,463.6 L1459.2,461.2 L1459.7,458.9 L1460.2,456.8 L1460.7,454.8 L1461.2,452.9 L1461.8,451.1 L1462.3,449.5 L1462.8,448.0 L1463.4,446.6 L1463.9,445.4 L1464.4,444.3 L1466.8,441.8 L1469.1,442.1 L1471.5,442.9 L1473.8,444.3 L1476.1,446.2 L1478.7,445.8 L1479.7,444.8 L1480.7,443.5 L1481.7,442.0 L1482.8,440.2 L1483.9,438.1 L1485.0,435.9 L1486.2,433.6 L1487.4,431.1 L1488.7,428.6 L1489.5,426.9 L1490.3,425.1 L1491.2,423.0 L1492.1,420.8 L1493.1,418.5 L1494.0,416.2 L1494.9,413.8 L1495.9,411.5 L1496.8,409.3 L1497.7,407.2 L1498.6,405.3 L1499.4,403.5 L1500.2,402.0 L1500.9,400.9 L1501.6,400.0 L1503.2,398.6 L1504.5,398.4 L1505.6,399.9 L1506.5,403.2 L1507.3,408.6 L1507.4,409.8 L1507.6,411.1 L1507.7,412.5 L1507.9,413.9 L1508.0,415.4 L1508.1,417.0 L1508.2,418.7 L1508.3,420.4 L1508.4,422.2 L1508.5,424.0 L1508.6,425.9 L1508.7,427.9 L1508.8,429.9 L1508.9,432.0 L1509.0,434.2 L1509.1,436.3 L1509.2,438.6 L1509.3,440.8 L1509.4,443.2 L1509.4,445.5 L1509.5,447.9 L1509.6,450.4 L1509.7,452.9 L1509.8,455.4 L1509.8,458.0 L1509.9,460.5 L1510.0,463.2 L1510.1,465.8 L1510.2,467.5 L1510.2,469.3 L1510.3,471.3 L1510.3,473.3 L1510.4,475.5 L1510.4,477.7 L1510.5,480.0 L1510.5,482.4 L1510.5,484.8 L1510.6,487.3 L1510.6,489.9 L1510.7,492.5 L1510.7,495.2 L1510.8,497.8 L1510.8,500.5 L1510.9,503.3 L1510.9,506.0 L1510.9,508.7 L1511.0,511.4 L1511.0,514.2 L1511.1,516.9 L1511.1,519.5 L1511.2,522.2 L1511.2,524.8 L1511.2,527.3 L1511.3,529.8 L1511.3,532.2 L1511.4,534.6 L1511.4,536.9 L1511.4,539.1 L1511.5,541.2 L1511.5,543.2 L1511.6,545.1 L1511.6,546.9 L1511.7,548.6 L1511.7,550.2 L1511.7,551.6 L1511.8,552.9 L1511.8,554.0 L1511.9,555.0 L1511.9,555.8 L1512.0,556.4 L1512.0,556.9 L1512.1,557.2 L1512.1,557.3 L1512.1,557.2 L1512.2,556.9 L1512.2,556.5 L1512.3,555.8 L1512.3,555.0 L1512.4,554.0 L1512.4,552.9 L1512.5,551.7 L1512.5,550.3 L1512.6,548.7 L1512.6,547.1 L1512.6,545.3 L1512.7,543.4 L1512.7,541.4 L1512.8,539.3 L1512.8,537.1 L1512.9,534.8 L1512.9,532.5 L1512.9,530.1 L1513.0,527.6 L1513.0,525.1 L1513.1,522.5 L1513.1,519.9 L1513.2,517.2 L1513.2,514.5 L1513.3,511.8 L1513.3,509.1 L1513.4,506.4 L1513.4,503.7 L1513.5,501.0 L1513.5,498.3 L1513.6,495.6 L1513.6,492.9 L1513.7,490.3 L1513.7,487.7 L1513.8,485.2 L1513.9,482.7 L1513.9,480.3 L1514.0,478.0 L1514.1,475.7 L1514.1,473.5 L1514.2,471.4 L1514.3,469.5 L1514.3,467.6 L1514.4,465.8 L1514.5,463.3 L1514.6,460.9 L1514.7,458.4 L1514.9,456.0 L1515.0,453.6 L1515.1,451.2 L1515.3,448.8 L1515.4,446.5 L1515.6,444.2 L1515.7,441.9 L1515.9,439.7 L1516.0,437.5 L1516.2,435.3 L1516.3,433.1 L1516.5,431.0 L1516.6,428.9 L1516.8,426.9 L1516.9,424.9 L1517.1,422.9 L1517.2,421.0 L1517.4,419.1 L1517.5,417.3 L1517.7,415.5 L1517.8,413.7 L1518.0,412.0 L1518.1,410.4 L1518.2,408.8 L1518.4,407.2 L1518.5,405.7 L1518.6,404.3 L1518.7,402.9 L1519.0,399.0 L1519.2,395.7 L1519.4,393.0 L1519.6,390.7 L1519.8,388.7 L1519.9,387.1 L1520.1,385.6 L1520.4,384.2 L1520.6,382.8 L1521.0,381.4 L1521.9,378.5 L1522.9,375.9 L1524.0,373.9 L1525.2,372.9 L1526.6,373.0 L1527.4,373.5 L1528.2,374.3 L1529.1,375.3 L1530.0,376.6 L1530.9,378.3 L1531.9,380.4 L1532.9,383.0 L1533.9,386.1 L1535.0,389.8 L1535.4,391.2 L1535.7,392.7 L1536.1,394.5 L1536.4,396.3 L1536.8,398.3 L1537.1,400.4 L1537.5,402.6 L1537.9,404.9 L1538.2,407.2 L1538.6,409.6 L1539.0,412.1 L1539.4,414.5 L1539.8,417.0 L1540.2,419.5 L1540.6,422.0 L1541.0,424.4 L1541.4,426.8 L1541.8,429.1 L1542.2,431.3 L1542.6,433.5 L1543.0,435.5 L1543.5,437.5 L1543.9,439.2 L1544.4,440.9 L1544.8,442.4 L1545.3,443.7 L1545.7,444.8 L1546.2,445.7 L1547.8,447.2 L1549.4,447.2 L1551.2,445.9 L1553.1,443.7 L1554.9,441.2 L1556.7,438.6 L1558.5,436.3 L1560.1,434.9 L1561.6,434.5 L1562.8,435.0 L1563.9,435.7 L1564.8,436.7 L1565.7,438.0 L1566.6,439.6 L1567.5,441.4 L1568.4,443.6 L1569.3,446.1 L1570.4,448.9 L1571.5,452.0 L1572.0,453.4 L1572.5,454.8 L1573.0,456.4 L1573.6,458.0 L1574.1,459.8 L1574.6,461.6 L1575.2,463.4 L1575.8,465.4 L1576.4,467.4 L1576.9,469.4 L1577.5,471.4 L1578.1,473.5 L1578.7,475.6 L1579.3,477.8 L1579.9,479.9 L1580.5,482.0 L1581.1,484.2 L1581.7,486.3 L1582.4,488.4 L1583.0,490.4 L1583.6,492.4 L1584.1,494.4 L1584.7,496.3 L1585.3,498.2 L1585.9,500.0 L1586.6,502.1 L1587.3,504.1 L1587.9,506.1 L1588.6,508.1 L1589.3,510.1 L1590.0,512.0 L1590.7,514.0 L1591.4,515.9 L1592.0,517.7 L1592.7,519.6 L1593.4,521.5 L1594.1,523.3 L1594.8,525.2 L1595.4,527.0 L1596.1,528.9 L1596.8,530.7 L1597.5,532.6 L1598.2,534.4 L1598.8,536.3 L1599.5,538.2 L1600.2,540.1 L1600.9,542.0 L1601.6,544.0 L1602.3,545.9 L1603.0,547.9 L1603.7,549.9 L1604.5,551.9 L1605.2,554.0 L1605.9,556.0 L1606.6,558.0 L1607.3,560.0 L1608.1,562.0 L1608.8,564.0 L1609.5,565.9 L1610.2,567.8 L1610.8,569.7 L1611.5,571.6 L1612.1,573.4 L1612.8,575.1 L1613.4,576.8 L1613.9,578.5 L1614.5,580.1 L1615.3,582.6 L1616.1,585.0 L1616.9,587.3 L1617.6,589.6 L1618.2,591.7 L1618.9,593.8 L1619.5,595.8 L1620.1,597.7 L1620.6,599.5 L1621.2,601.2 L1621.8,602.9 L1622.5,604.4 L1623.1,605.9 L1624.3,608.3 L1625.4,610.2 L1626.6,611.7 L1627.8,613.1 L1629.0,614.4 L1630.2,615.7 L1631.6,617.3 L1632.9,619.0 L1634.3,621.0 L1635.7,623.2 L1637.2,625.3 L1638.7,627.2 L1640.2,628.8 L1641.6,629.8 L1643.1,630.2 L1644.5,630.0 L1646.0,629.4 L1647.5,628.3 L1649.0,626.9 L1650.4,625.1 L1651.8,622.8 L1653.2,620.3 L1654.5,617.3 L1655.0,615.9 L1655.5,614.4 L1656.0,612.8 L1656.5,611.2 L1657.0,609.4 L1657.4,607.5 L1657.9,605.6 L1658.3,603.6 L1658.8,601.6 L1659.2,599.5 L1659.6,597.4 L1660.1,595.3 L1660.5,593.1 L1660.9,590.9 L1661.3,588.7 L1661.8,586.5 L1662.2,584.4 L1662.7,582.2 L1663.1,580.1 L1663.5,578.1 L1663.9,576.1 L1664.4,574.0 L1664.8,571.8 L1665.2,569.5 L1665.6,567.3 L1666.1,564.9 L1666.5,562.6 L1666.9,560.3 L1667.4,558.0 L1667.8,555.7 L1668.2,553.5 L1668.6,551.3 L1669.0,549.2 L1669.5,547.1 L1669.9,545.2 L1670.2,543.3 L1670.6,541.6 L1671.0,540.0 L1671.4,538.5 L1671.7,537.2 L1673.0,532.9 L1674.2,530.1 L1675.3,528.6 L1676.3,528.2 L1677.4,528.7 L1678.0,529.2 L1678.6,529.9 L1679.2,530.8 L1679.9,532.0 L1680.5,533.7 L1681.1,535.8 L1681.7,538.4 L1682.4,541.7 L1683.1,545.8 L1683.3,547.2 L1683.5,548.6 L1683.7,550.2 L1684.0,551.9 L1684.2,553.8 L1684.4,555.7 L1684.6,557.6 L1684.9,559.7 L1685.1,561.8 L1685.3,564.0 L1685.6,566.2 L1685.8,568.5 L1686.0,570.8 L1686.3,573.2 L1686.5,575.5 L1686.8,577.9 L1687.0,580.3 L1687.2,582.6 L1687.5,584.9 L1687.7,587.3 L1688.0,589.5 L1688.2,591.8 L1688.4,594.0 L1688.7,596.1 L1688.9,598.2 L1689.1,600.2 L1689.3,602.1 L1689.6,603.9 L1689.8,605.6 L1690.0,607.2 L1690.2,608.7 L1690.7,612.0 L1691.1,615.2 L1691.5,618.2 L1691.9,621.1 L1692.3,623.7 L1692.7,626.0 L1693.1,628.2 L1693.5,630.0 L1693.9,631.6 L1694.4,632.8 L1694.9,633.7 L1695.4,634.3 L1696.0,634.5 L1696.6,634.2 L1697.3,633.4 L1698.1,632.1 L1698.9,630.5 L1699.7,628.5 L1700.5,626.2 L1701.3,623.8 L1702.2,621.2 L1703.0,618.5 L1703.8,615.9 L1704.6,613.3 L1705.3,610.9 L1706.0,608.7 L1706.6,606.8 L1707.2,604.8 L1707.7,602.9 L1708.2,600.9 L1708.7,598.9 L1709.2,596.9 L1709.7,594.9 L1710.2,592.9 L1710.7,590.8 L1711.1,588.8 L1711.6,586.7 L1712.1,584.5 L1712.6,582.3 L1713.1,580.1 L1713.5,578.2 L1714.0,576.1 L1714.5,573.9 L1714.9,571.7 L1715.4,569.4 L1715.9,567.0 L1716.4,564.7 L1716.9,562.3 L1717.4,560.0 L1717.8,557.8 L1718.3,555.6 L1718.7,553.5 L1719.1,551.6 L1719.5,549.9 L1719.8,548.3 L1720.1,546.9 L1720.3,545.8" fill="none" stroke="#32aa69" stroke-width="6.6" stroke-linejoin="round" stroke-linecap="round"/>
<path d="M130.0,66.0 L132.8,67.0 L134.1,66.5 L135.7,67.6 L137.5,66.1 L139.4,69.7 L141.6,70.2 L143.8,69.9 L146.2,67.8 L148.6,70.2 L151.0,69.7 L153.4,69.8 L155.7,73.9 L158.0,74.6 L159.9,70.0 L161.9,74.6 L163.8,73.5 L165.8,72.7 L167.8,72.5 L169.8,74.9 L171.8,74.1 L173.9,75.5 L175.9,75.7 L177.9,73.3 L179.9,76.9 L182.0,78.3 L184.0,78.5 L186.0,77.0 L188.0,74.4 L190.1,74.5 L192.1,75.5 L194.2,80.1 L196.2,77.1 L198.3,77.8 L200.4,80.9 L202.4,78.3 L204.4,79.8 L206.4,79.5 L208.4,77.8 L210.3,80.7 L212.2,82.3 L214.0,78.8 L216.3,79.2 L218.6,80.2 L220.9,78.1 L223.2,80.3 L225.4,81.8 L227.6,80.7 L229.6,79.8 L231.5,81.3 L233.2,77.4 L234.7,79.4 L236.0,78.3 L238.8,78.3 L240.0,79.6 L240.9,80.9 L242.0,82.8 L243.2,85.0 L244.5,87.4 L245.8,89.7 L247.1,91.7 L248.2,93.2 L249.3,94.0 L250.7,93.3 L252.0,91.0 L253.2,88.1 L254.3,85.6 L255.5,84.8 L256.5,85.8 L257.6,87.9 L258.7,90.6 L259.7,93.3 L260.7,95.7 L261.7,97.2 L264.4,96.5 L266.9,95.2 L268.0,96.7 L269.1,99.2 L270.1,101.8 L271.0,103.4 L274.1,102.4 L274.6,103.6 L275.1,105.2 L275.6,107.1 L276.1,109.3 L276.7,111.6 L277.2,113.9 L277.8,116.0 L278.3,117.9 L279.0,120.1 L279.7,122.3 L280.4,124.3 L281.1,126.3 L281.7,128.3 L282.4,130.3 L283.0,132.3 L283.7,134.3 L284.3,136.3 L284.9,138.3 L285.5,140.5 L286.0,142.7 L286.4,144.8 L286.8,146.9 L287.2,149.1 L287.6,151.4 L287.9,153.7 L288.3,156.0 L288.6,158.2 L288.9,160.4 L289.2,162.7 L289.5,164.9 L289.8,167.1 L290.1,169.3 L290.4,171.6 L290.7,173.8 L291.0,176.0 L291.3,178.2 L291.6,180.4 L291.8,182.7 L292.1,184.9 L292.4,187.1 L292.7,189.3 L293.0,191.5 L293.2,193.7 L293.5,195.9 L293.8,198.2 L294.1,200.4 L294.4,202.6 L294.8,204.8 L295.2,206.8 L295.7,208.7 L296.2,210.7 L296.8,212.7 L297.3,214.7 L297.9,216.6 L298.4,218.5 L298.9,220.3 L299.5,222.5 L300.0,224.4 L300.5,226.3 L301.0,228.2 L301.5,230.4 L302.0,233.0 L302.3,234.8 L302.6,236.9 L303.0,239.1 L303.3,241.4 L303.6,243.8 L303.9,246.2 L304.3,248.5 L304.6,250.7 L305.0,252.8 L305.4,254.7 L306.0,257.0 L306.7,259.0 L307.5,260.8 L308.2,262.5 L309.0,264.2 L309.7,266.1 L310.3,268.1 L310.8,270.0 L311.3,271.9 L311.7,273.9 L312.1,276.0 L312.5,278.1 L312.9,280.3 L313.4,282.7 L313.9,285.2 L314.3,287.0 L314.6,288.8 L315.0,290.8 L315.4,292.8 L315.8,294.8 L316.3,296.9 L316.7,299.0 L317.1,301.1 L317.5,303.3 L318.0,305.4 L318.4,307.5 L318.8,309.5 L319.2,311.5 L319.6,313.6 L320.0,315.7 L320.4,317.8 L320.8,319.9 L321.3,322.0 L321.7,324.1 L322.1,326.1 L322.5,328.1 L322.9,330.1 L323.3,332.0 L323.7,333.8 L324.2,336.2 L324.8,338.5 L325.4,340.7 L325.9,342.9 L326.5,345.0 L327.0,347.0 L327.5,348.8 L328.0,350.6 L328.5,352.1 L329.3,354.4 L329.9,355.7 L330.6,357.1 L331.6,360.0 L332.1,361.5 L332.6,363.1 L333.1,364.9 L333.7,366.9 L334.4,369.0 L335.0,371.1 L335.7,373.3 L336.4,375.6 L337.0,377.8 L337.7,380.1 L338.3,382.2 L338.9,384.3 L339.5,386.3 L340.0,388.4 L340.5,390.4 L341.1,392.4 L341.6,394.5 L342.1,396.5 L342.6,398.5 L343.2,400.6 L343.7,402.6 L344.3,404.6 L344.9,406.7 L345.6,408.7 L346.2,410.6 L346.9,412.4 L347.6,414.3 L348.3,416.2 L349.0,418.1 L349.7,419.9 L350.5,421.8 L351.3,423.7 L352.0,425.5 L352.8,427.4 L353.6,429.3 L354.5,431.1 L355.3,433.0 L356.2,434.9 L357.0,436.8 L357.9,438.7 L358.8,440.7 L359.7,442.6 L360.6,444.6 L361.6,446.5 L362.5,448.4 L363.5,450.3 L364.5,452.1 L365.5,453.9 L366.5,455.6 L367.5,457.3 L368.7,459.2 L370.0,461.1 L371.4,463.0 L372.7,464.9 L374.1,466.6 L375.4,468.4 L376.8,470.0 L378.1,471.6 L379.5,473.0 L380.8,474.4 L382.0,475.6 L383.9,477.3 L385.7,478.7 L387.4,479.9 L389.1,480.9 L390.8,481.7 L392.5,482.3 L394.2,482.9 L396.2,483.4 L398.3,483.8 L400.3,484.0 L402.3,483.9 L404.4,483.6 L406.4,482.9 L408.1,482.0 L409.9,480.8 L411.7,479.4 L413.4,477.8 L415.2,476.2 L416.9,474.6 L418.6,473.1 L420.3,471.7 L422.0,470.3 L423.7,468.9 L425.4,467.5 L427.0,466.1 L428.6,464.8 L430.0,463.4 L431.4,461.8 L432.4,460.3 L433.3,458.7 L434.4,457.2 L435.8,455.6 L437.7,454.0 L439.0,453.1 L440.5,452.3 L442.1,451.5 L443.8,450.7 L445.6,449.9 L447.5,449.1 L449.5,448.3 L451.4,447.3 L453.4,446.3 L455.4,445.2 L457.3,444.0 L458.8,443.0 L460.4,441.8 L462.0,440.7 L463.6,439.4 L465.2,438.1 L466.8,436.8 L468.5,435.4 L470.1,434.1 L471.7,432.7 L473.4,431.3 L475.0,429.9 L476.6,428.6 L478.2,427.3 L479.7,426.0 L481.3,424.7 L482.9,423.4 L484.4,422.2 L485.8,421.1 L487.3,419.9 L488.8,418.7 L490.2,417.5 L491.7,416.3 L493.3,415.0 L494.8,413.7 L496.5,412.2 L498.2,410.7 L500.0,409.0 L501.3,407.8 L502.6,406.5 L504.0,405.2 L505.4,403.8 L506.8,402.4 L508.3,401.0 L509.7,399.5 L511.2,398.0 L512.8,396.5 L514.3,394.9 L515.8,393.4 L517.4,391.8 L518.9,390.2 L520.4,388.6 L522.0,387.1 L523.5,385.5 L525.0,384.0 L526.5,382.5 L528.0,381.0 L529.5,379.5 L531.0,377.9 L532.6,376.3 L534.2,374.7 L535.8,373.0 L537.4,371.3 L539.0,369.6 L540.7,367.9 L542.3,366.2 L543.9,364.6 L545.4,363.0 L546.9,361.4 L548.4,360.0 L549.8,358.5 L551.2,357.2 L552.5,356.0 L553.8,354.9 L554.9,353.9 L556.0,353.0 L559.4,350.6 L561.8,349.5 L563.7,349.3 L565.3,349.7 L567.0,350.5 L568.4,351.2 L569.7,352.1 L570.8,353.3 L571.9,355.2 L573.0,357.9 L574.0,361.7 L574.3,363.1 L574.6,364.6 L574.9,366.3 L575.2,368.1 L575.5,370.0 L575.8,372.0 L576.1,374.2 L576.4,376.4 L576.6,378.6 L576.9,380.9 L577.2,383.2 L577.5,385.5 L577.7,387.8 L578.0,390.0 L578.3,392.3 L578.5,394.4 L578.8,396.5 L579.0,398.4 L579.2,400.3 L579.5,402.0 L579.7,403.6 L580.1,406.8 L580.6,410.1 L580.9,413.3 L581.3,416.3 L581.6,419.1 L582.0,421.4 L582.3,423.3 L582.6,424.5 L583.0,425.0 L583.4,424.6 L583.6,424.0 L583.8,423.0 L584.1,421.7 L584.3,420.1 L584.5,418.3 L584.7,416.3 L584.9,414.1 L585.2,411.8 L585.4,409.3 L585.6,406.8 L585.8,404.3 L586.1,401.7 L586.3,399.2 L586.6,396.7 L586.9,394.4 L587.1,392.2 L587.4,390.2 L587.7,388.4 L588.0,386.8 L588.7,383.8 L589.4,381.1 L590.1,378.6 L590.9,376.3 L591.7,374.3 L592.5,372.6 L593.3,371.3 L594.1,370.5 L595.0,370.0 L596.1,370.5 L597.3,372.1 L598.5,374.5 L599.8,377.2 L601.0,379.8 L602.3,381.8 L603.5,382.7 L604.9,382.3 L606.4,380.8 L607.8,378.8 L609.3,376.6 L610.7,374.8 L612.0,374.0 L613.8,374.8 L615.5,376.9 L617.2,379.1 L619.0,380.0 L620.5,379.9 L622.0,379.6 L623.6,378.5 L625.3,376.5 L627.0,373.0 L627.5,371.7 L628.0,370.1 L628.5,368.4 L629.1,366.5 L629.6,364.5 L630.1,362.4 L630.7,360.2 L631.3,357.9 L631.8,355.5 L632.4,353.2 L632.9,350.8 L633.5,348.5 L634.1,346.2 L634.7,344.0 L635.3,341.9 L635.8,340.0 L636.4,338.1 L637.0,336.5 L637.9,334.1 L638.7,331.9 L639.5,330.0 L640.3,328.2 L641.1,326.6 L642.0,325.0 L642.9,323.5 L643.9,322.0 L645.1,320.4 L646.5,318.8 L648.0,317.0 L649.2,315.7 L650.5,314.4 L652.0,313.0 L653.5,311.6 L655.1,310.2 L656.7,308.8 L658.4,307.3 L660.2,305.9 L661.9,304.5 L663.7,303.1 L665.4,301.8 L667.1,300.5 L668.8,299.3 L670.4,298.1 L671.9,297.0 L673.4,296.0 L675.4,294.7 L677.2,293.7 L678.9,292.8 L680.5,292.1 L682.1,291.4 L683.7,290.8 L685.3,290.1 L687.0,289.3 L688.8,288.4 L690.8,287.3 L693.0,286.0 L694.3,285.1 L695.7,284.1 L697.1,283.1 L698.6,282.0 L700.0,280.9 L701.5,279.7 L703.0,278.5 L704.6,277.3 L706.2,276.0 L707.8,274.7 L709.5,273.4 L711.2,272.1 L712.9,270.8 L714.6,269.6 L716.4,268.3 L718.2,267.0 L720.0,265.8 L721.9,264.6 L723.8,263.5 L725.4,262.6 L727.1,261.6 L728.9,260.6 L730.8,259.7 L732.7,258.7 L734.6,257.7 L736.6,256.7 L738.7,255.7 L740.7,254.7 L742.7,253.8 L744.8,252.8 L746.8,251.9 L748.8,251.0 L750.8,250.0 L752.8,249.2 L754.6,248.3 L756.5,247.5 L758.2,246.7 L759.9,246.0 L761.5,245.3 L763.0,244.7 L764.4,244.0 L765.7,243.5 L769.0,242.2 L771.3,241.5 L772.9,241.2 L774.2,241.1 L775.5,241.0 L777.2,240.5 L779.7,239.5 L781.2,238.8 L782.7,238.0 L784.4,237.2 L786.2,236.3 L788.0,235.3 L789.9,234.3 L791.8,233.2 L793.8,232.1 L795.8,231.0 L797.8,229.9 L799.9,228.8 L801.9,227.6 L803.9,226.6 L805.8,225.5 L807.7,224.5 L809.6,223.5 L811.5,222.5 L813.5,221.5 L815.5,220.5 L817.5,219.5 L819.6,218.5 L821.6,217.5 L823.5,216.5 L825.5,215.6 L827.4,214.6 L829.2,213.6 L831.0,212.7 L832.7,211.8 L834.2,210.9 L835.7,210.0 L837.9,208.6 L839.7,207.2 L841.3,205.8 L842.7,204.5 L844.0,203.2 L845.3,202.0 L846.7,200.7 L848.2,199.6 L850.0,198.4 L851.6,197.5 L853.2,196.6 L854.9,195.8 L856.6,195.0 L858.4,194.2 L860.2,193.4 L862.1,192.7 L864.1,191.9 L866.1,191.1 L868.2,190.3 L870.4,189.4 L872.1,188.8 L873.8,188.1 L875.5,187.5 L877.3,186.8 L879.2,186.2 L881.1,185.5 L883.0,184.9 L884.9,184.2 L886.9,183.5 L888.9,182.8 L890.9,182.1 L892.9,181.4 L894.8,180.7 L896.8,179.9 L898.8,179.2 L900.6,178.5 L902.5,177.8 L904.4,177.0 L906.2,176.3 L908.1,175.5 L910.0,174.8 L911.9,174.0 L913.8,173.2 L915.7,172.4 L917.6,171.6 L919.5,170.8 L921.5,170.0 L923.4,169.2 L925.4,168.4 L927.4,167.5 L929.4,166.7 L931.2,165.9 L933.1,165.2 L934.9,164.4 L936.8,163.6 L938.8,162.8 L940.7,162.0 L942.6,161.2 L944.6,160.4 L946.5,159.6 L948.5,158.8 L950.4,158.0 L952.4,157.2 L954.3,156.3 L956.2,155.5 L958.0,154.6 L959.9,153.7 L961.6,152.9 L963.4,152.0 L965.4,151.0 L967.3,149.9 L969.3,148.8 L971.3,147.6 L973.3,146.4 L975.3,145.3 L977.3,144.1 L979.2,142.9 L981.0,141.7 L982.8,140.6 L984.5,139.5 L986.2,138.4 L987.7,137.5 L989.2,136.6 L990.5,135.7 L991.7,135.0 L994.9,133.1 L996.5,132.3 L997.7,131.7 L1000.0,130.2 L1001.3,129.3 L1002.8,128.3 L1004.5,127.2 L1006.3,126.0 L1008.1,124.7 L1010.0,123.5 L1011.8,122.2 L1013.6,120.9 L1015.4,119.7 L1017.0,118.6 L1018.4,117.6 L1020.7,116.0 L1022.6,114.6 L1024.4,113.3 L1026.0,112.1 L1027.7,110.8 L1029.5,109.5 L1031.2,108.2 L1033.0,106.8 L1034.8,105.3 L1036.6,103.8 L1038.3,102.5 L1039.9,101.5 L1041.3,101.0 L1043.8,99.4 L1045.8,102.6 L1047.9,100.1 L1049.2,99.2 L1050.5,99.5 L1051.8,97.9 L1053.2,94.1 L1054.6,92.0 L1056.0,89.6 L1057.4,88.1 L1058.9,87.6 L1060.4,84.7 L1061.9,83.1 L1063.4,82.7 L1064.8,80.4 L1066.3,80.4 L1067.6,79.5 L1068.9,77.9 L1070.4,75.5 L1072.2,73.7 L1073.8,73.0 L1075.5,70.5 L1077.5,71.7 L1079.4,69.5 L1081.4,68.5 L1083.1,66.9 L1084.7,67.3 L1087.7,66.5 L1090.1,65.1 L1092.1,66.5 L1093.7,67.6 L1095.8,68.2 L1097.6,69.3 L1100.0,70.5 L1102.5,69.2 L1104.9,69.3 L1106.9,67.6 L1110.2,68.9 L1112.7,69.6 L1114.5,70.9 L1116.3,73.0 L1117.9,75.9 L1118.9,77.8 L1119.9,80.0 L1120.8,81.4 L1121.6,84.3 L1122.6,87.8 L1123.5,87.4 L1124.6,88.5 L1125.2,89.9 L1125.9,93.4 L1126.6,93.9 L1127.3,96.1 L1128.0,98.3 L1128.6,101.5 L1129.2,105.3 L1129.8,106.0 L1130.3,108.3 L1130.7,110.6 L1131.1,113.2 L1131.5,115.2 L1131.9,118.1 L1132.3,121.2 L1132.6,122.6 L1133.0,123.8 L1133.7,127.0 L1134.3,129.6 L1135.0,129.2 L1135.8,131.7 L1136.6,135.1 L1137.5,137.4 L1138.4,139.1 L1139.2,140.5 L1141.0,143.1 L1142.9,142.8 L1144.7,145.7 L1145.5,147.7 L1146.3,147.7 L1147.1,151.1 L1147.9,152.7 L1148.7,155.5 L1149.4,154.9 L1150.1,159.7 L1150.7,161.2 L1151.3,163.7 L1151.9,165.6 L1152.4,165.2 L1152.9,168.4 L1153.3,168.8 L1153.8,172.4 L1154.1,175.3 L1154.5,174.9 L1154.8,177.4 L1155.1,178.6 L1155.3,181.0 L1155.6,183.2 L1155.9,185.0 L1156.2,189.9 L1156.5,191.6 L1156.8,192.3 L1157.1,195.2 L1157.4,197.1 L1157.7,198.6 L1158.1,200.3 L1158.4,203.1 L1158.7,204.7 L1159.0,205.8 L1159.3,208.2 L1159.6,211.1 L1159.9,213.1 L1160.2,214.8 L1160.6,216.9 L1160.9,219.0 L1161.2,221.0 L1161.5,223.0 L1161.7,225.0 L1162.0,226.9 L1162.3,229.2 L1162.6,231.3 L1162.9,233.2 L1163.2,235.2 L1163.4,237.3 L1163.6,239.5 L1163.8,242.0 L1163.9,243.9 L1163.9,245.7 L1163.9,247.7 L1163.9,249.7 L1163.9,251.8 L1163.9,253.9 L1163.9,256.2 L1164.0,258.6 L1164.1,261.1 L1164.3,263.8 L1164.5,265.6 L1164.6,267.4 L1164.8,269.4 L1165.1,271.4 L1165.3,273.4 L1165.5,275.5 L1165.8,277.7 L1166.1,279.9 L1166.4,282.1 L1166.7,284.3 L1167.0,286.5 L1167.3,288.7 L1167.6,290.9 L1167.9,293.1 L1168.2,295.2 L1168.5,297.3 L1168.8,299.4 L1169.1,301.5 L1169.4,303.6 L1169.8,305.8 L1170.1,307.9 L1170.5,310.0 L1170.8,312.2 L1171.2,314.3 L1171.5,316.4 L1171.9,318.5 L1172.2,320.5 L1172.6,322.5 L1172.9,324.5 L1173.3,326.4 L1173.6,328.2 L1174.0,330.0 L1174.5,332.6 L1175.0,335.1 L1175.5,337.7 L1176.1,340.1 L1176.6,342.5 L1177.1,344.8 L1177.6,346.9 L1178.1,348.9 L1178.7,350.6 L1179.2,352.1 L1179.7,353.3 L1182.4,356.0 L1185.3,353.3 L1185.9,352.2 L1186.6,351.0 L1187.3,349.6 L1188.0,347.9 L1188.7,346.1 L1189.4,344.1 L1190.2,341.8 L1190.9,339.4 L1191.6,336.7 L1192.3,333.7 L1192.6,332.2 L1193.0,330.6 L1193.3,328.9 L1193.6,327.1 L1193.9,325.2 L1194.3,323.2 L1194.6,321.3 L1194.9,319.2 L1195.2,317.1 L1195.6,315.0 L1195.9,312.8 L1196.2,310.7 L1196.5,308.5 L1196.9,306.3 L1197.2,304.1 L1197.5,302.0 L1197.9,299.8 L1198.2,297.7 L1198.6,295.7 L1198.9,293.7 L1199.3,291.7 L1199.7,289.5 L1200.1,286.7 L1200.6,285.4 L1201.0,283.8 L1201.5,281.5 L1201.9,278.7 L1202.4,275.1 L1202.9,273.7 L1203.4,270.7 L1203.8,268.4 L1204.3,266.8 L1204.8,265.1 L1205.2,263.8 L1205.7,261.5 L1206.1,258.8 L1206.5,258.0 L1206.9,255.8 L1207.3,254.1 L1207.7,252.0 L1208.5,249.2 L1209.3,246.2 L1210.0,244.7 L1210.7,242.1 L1211.3,240.2 L1212.0,238.6 L1212.6,237.2 L1213.3,236.3 L1214.9,232.9 L1216.5,231.0 L1218.9,230.0 L1220.0,231.7 L1221.4,233.5 L1222.8,235.4 L1224.3,236.8 L1225.9,237.3 L1227.5,241.2 L1229.1,242.8 L1230.6,241.9 L1232.0,243.1 L1233.5,242.5 L1234.9,241.9 L1236.4,239.4 L1237.7,236.1 L1239.1,233.4 L1240.3,231.2 L1241.6,229.6 L1242.7,230.9 L1243.6,231.9 L1244.5,231.5 L1245.3,234.6 L1246.0,237.4 L1246.7,238.0 L1247.4,241.4 L1248.1,243.4 L1248.9,246.7 L1249.7,247.9 L1251.7,248.1 L1253.8,250.1 L1255.9,252.4 L1258.0,251.4 L1259.2,250.3 L1260.3,249.2 L1261.4,246.9 L1262.6,245.0 L1263.8,241.5 L1265.1,239.4 L1266.4,240.5 L1267.7,239.5 L1269.0,242.3 L1270.4,245.0 L1271.8,246.2 L1273.3,249.0 L1274.7,250.0 L1276.2,251.3 L1277.6,252.9 L1279.0,253.1 L1280.6,252.4 L1282.1,248.6 L1283.6,248.9 L1285.1,245.7 L1286.5,243.0 L1287.7,240.7 L1288.8,238.8 L1289.4,236.4 L1290.0,234.0 L1290.5,233.6 L1290.9,231.1 L1291.3,228.6 L1291.6,226.6 L1291.9,224.9 L1292.1,220.7 L1292.4,220.0 L1292.7,217.8 L1293.0,214.6 L1293.3,212.9 L1293.6,210.5 L1293.9,207.6 L1294.1,206.0 L1294.4,203.1 L1294.6,202.9 L1294.9,199.2 L1295.2,198.4 L1295.6,196.6 L1296.0,196.1 L1297.2,193.1 L1298.6,190.6 L1300.2,189.5 L1302.0,187.1 L1303.1,185.8 L1304.4,184.9 L1305.7,184.6 L1307.0,181.2 L1308.4,179.8 L1309.8,179.0 L1311.2,176.7 L1312.4,174.7 L1313.7,174.5 L1315.0,170.9 L1316.2,170.1 L1317.5,167.9 L1318.7,166.0 L1319.9,164.0 L1321.0,162.3 L1322.7,160.3 L1324.2,158.3 L1325.7,155.4 L1327.0,154.4 L1328.0,154.1 L1328.7,153.9 L1329.0,158.0 L1329.3,160.7 L1329.6,163.1 L1330.2,164.5 L1331.1,164.7 L1332.2,162.0 L1333.4,159.0 L1334.8,158.1 L1336.4,153.9 L1337.6,152.3 L1339.0,151.6 L1340.5,148.8 L1342.0,146.7 L1343.6,145.5 L1345.1,144.4 L1346.4,142.2 L1347.6,142.8 L1349.1,142.7 L1350.2,144.3 L1351.1,146.6 L1352.1,148.3 L1353.2,151.3 L1354.0,154.2 L1354.9,156.4 L1355.7,157.6 L1356.6,161.2 L1357.5,163.1 L1358.4,165.3 L1359.3,166.4 L1360.2,166.7 L1361.3,167.1 L1362.3,167.6 L1363.4,164.6 L1364.5,163.9 L1365.7,160.6 L1367.2,156.6 L1367.8,156.7 L1368.5,153.5 L1369.3,153.2 L1370.1,150.1 L1370.9,149.1 L1371.8,146.4 L1372.7,143.3 L1373.5,141.4 L1374.4,139.8 L1375.3,136.0 L1376.1,134.0 L1376.9,132.3 L1377.7,131.7 L1378.4,129.2 L1379.1,128.1 L1379.7,128.2 L1380.7,127.8 L1381.6,128.1 L1382.4,129.7 L1383.0,130.7 L1383.6,133.2 L1384.2,136.1 L1384.7,139.4 L1385.3,144.0 L1385.6,145.9 L1385.8,145.8 L1386.1,147.9 L1386.3,148.9 L1386.6,151.4 L1386.8,153.7 L1387.0,155.5 L1387.3,158.0 L1387.5,159.3 L1387.7,160.4 L1387.9,163.2 L1388.2,165.5 L1388.4,167.5 L1388.6,169.3 L1388.8,172.8 L1389.0,175.0 L1389.3,177.9 L1389.5,179.7 L1389.6,180.8 L1389.8,182.9 L1389.9,184.5 L1390.1,186.9 L1390.2,188.7 L1390.4,190.5 L1390.5,192.4 L1390.7,194.3 L1390.8,196.2 L1391.0,198.2 L1391.1,200.2 L1391.3,202.2 L1391.4,204.2 L1391.6,206.2 L1391.7,208.3 L1391.9,210.4 L1392.0,212.4 L1392.2,214.5 L1392.3,216.6 L1392.5,218.8 L1392.6,220.9 L1392.8,223.0 L1392.9,225.2 L1393.1,227.3 L1393.2,229.5 L1393.4,231.6 L1393.5,233.8 L1393.7,235.9 L1393.8,237.8 L1394.0,239.7 L1394.1,241.7 L1394.2,243.7 L1394.4,245.7 L1394.5,247.8 L1394.6,249.9 L1394.7,252.0 L1394.9,254.1 L1395.0,256.2 L1395.1,258.4 L1395.3,260.5 L1395.4,262.7 L1395.5,264.9 L1395.6,267.0 L1395.8,269.2 L1395.9,271.3 L1396.0,273.4 L1396.2,275.5 L1396.3,277.6 L1396.4,279.7 L1396.6,281.7 L1396.7,283.7 L1396.8,285.7 L1397.0,287.7 L1397.1,289.6 L1397.3,291.4 L1397.4,293.2 L1397.6,295.0 L1397.7,296.7 L1397.8,298.4 L1398.0,300.0 L1398.3,302.7 L1398.5,305.3 L1398.8,307.8 L1399.0,310.1 L1399.3,312.4 L1399.5,314.6 L1399.8,316.6 L1400.0,318.6 L1400.3,320.6 L1400.6,322.4 L1400.9,324.3 L1401.2,326.1 L1401.5,327.8 L1401.9,329.6 L1402.2,331.3 L1402.6,333.1 L1403.1,334.8 L1403.5,336.6 L1404.1,338.7 L1404.7,340.8 L1405.4,342.8 L1406.1,344.8 L1406.9,346.8 L1407.6,348.7 L1408.4,350.6 L1409.2,352.4 L1410.0,354.2 L1410.9,356.0 L1411.7,357.8 L1412.5,359.5 L1413.2,361.2 L1414.0,362.9 L1414.7,364.6 L1415.6,366.7 L1416.4,368.8 L1417.2,370.9 L1417.9,373.0 L1418.7,375.0 L1419.4,377.0 L1420.2,378.9 L1421.0,380.8 L1421.8,382.5 L1422.6,384.1 L1423.5,385.6 L1424.5,387.0 L1426.1,388.9 L1427.9,390.6 L1429.8,392.1 L1431.7,393.4 L1433.6,394.4 L1435.4,395.1 L1437.1,395.4 L1438.5,395.3 L1439.8,394.7 L1440.9,393.8 L1441.8,392.5 L1442.6,390.7 L1443.4,388.3 L1444.3,385.2 L1445.5,381.4 L1445.9,380.0 L1446.3,378.5 L1446.8,376.9 L1447.3,375.1 L1447.7,373.2 L1448.2,371.2 L1448.7,369.1 L1449.3,367.0 L1449.8,364.8 L1450.3,362.6 L1450.8,360.3 L1451.4,358.0 L1451.9,355.8 L1452.4,353.5 L1452.9,351.3 L1453.5,349.2 L1454.0,347.1 L1454.5,345.0 L1454.9,343.1 L1455.4,341.3 L1455.9,339.6 L1456.3,338.0 L1456.7,336.6 L1457.7,333.6 L1458.6,331.4 L1459.4,329.8 L1460.2,328.4 L1460.9,327.3 L1461.6,326.0 L1462.3,324.5 L1463.0,322.5 L1463.7,319.8 L1464.0,318.3 L1464.3,316.6 L1464.7,314.8 L1465.0,312.9 L1465.3,310.9 L1465.6,308.9 L1465.9,306.8 L1466.2,304.6 L1466.4,302.4 L1466.7,300.1 L1467.0,297.9 L1467.3,295.6 L1467.6,293.3 L1467.9,291.1 L1468.1,288.9 L1468.4,286.7 L1468.7,284.6 L1469.0,282.6 L1469.3,280.6 L1469.6,278.4 L1469.9,276.3 L1470.2,274.0 L1470.4,271.8 L1470.6,269.6 L1470.9,267.4 L1471.1,265.2 L1471.4,263.1 L1471.6,261.0 L1471.9,259.0 L1472.2,257.0 L1472.5,255.1 L1472.9,253.2 L1473.3,251.5 L1473.8,249.9 L1474.3,248.4 L1474.9,247.0 L1476.2,244.7 L1477.8,242.7 L1479.5,241.0 L1481.4,239.5 L1483.3,238.4 L1485.2,237.4 L1487.1,236.7 L1488.8,236.2 L1490.3,235.9 L1492.6,236.6 L1494.7,238.7 L1496.5,241.2 L1498.2,243.0 L1500.0,242.9 L1500.8,242.0 L1501.6,240.7 L1502.4,239.1 L1503.2,237.2 L1504.0,235.0 L1504.7,232.7 L1505.5,230.4 L1506.2,228.1 L1507.0,225.8 L1507.7,223.8 L1508.4,221.9 L1509.3,219.9 L1510.1,218.1 L1510.9,216.5 L1511.8,214.9 L1512.6,213.2 L1513.3,211.5 L1514.1,209.6 L1514.8,207.5 L1515.4,205.0 L1515.8,203.4 L1516.1,201.7 L1516.4,200.0 L1516.6,198.2 L1516.9,196.3 L1517.1,194.4 L1517.4,192.4 L1517.6,190.4 L1517.9,188.3 L1518.1,186.1 L1518.4,183.9 L1518.6,181.6 L1518.9,179.2 L1519.2,176.8 L1519.6,174.3 L1519.9,172.6 L1520.1,170.7 L1520.4,168.9 L1520.7,167.0 L1521.0,165.0 L1521.3,163.0 L1521.6,161.0 L1521.9,158.9 L1522.2,156.8 L1522.5,154.7 L1522.8,152.6 L1523.2,150.5 L1523.5,148.3 L1523.8,146.2 L1524.2,144.0 L1524.5,141.9 L1524.9,139.8 L1525.2,137.7 L1525.6,135.6 L1525.9,133.5 L1526.3,131.5 L1526.6,129.5 L1527.0,127.4 L1527.4,125.3 L1527.7,123.1 L1528.1,120.8 L1528.5,118.6 L1528.9,116.3 L1529.3,114.1 L1529.8,111.8 L1530.2,109.6 L1530.6,107.4 L1531.0,105.2 L1531.4,103.1 L1531.8,101.0 L1532.3,99.0 L1532.7,97.0 L1533.1,95.2 L1533.5,93.4 L1533.9,91.8 L1534.2,90.3 L1534.6,88.9 L1535.0,87.6 L1536.4,83.3 L1537.8,80.5 L1539.1,78.9 L1540.4,78.6 L1542.0,79.2 L1542.8,80.0 L1543.7,81.2 L1544.6,82.7 L1545.5,84.5 L1546.5,86.6 L1547.4,88.8 L1548.5,91.2 L1549.5,93.7 L1550.6,96.3 L1551.8,98.8 L1552.6,100.4 L1553.4,102.1 L1554.2,103.9 L1555.1,105.8 L1556.1,107.7 L1557.0,109.6 L1557.9,111.6 L1558.9,113.6 L1559.8,115.7 L1560.8,117.7 L1561.7,119.7 L1562.6,121.8 L1563.5,123.8 L1564.3,125.7 L1565.1,127.6 L1565.8,129.5 L1566.6,131.5 L1567.3,133.4 L1568.0,135.3 L1568.6,137.0 L1569.2,138.8 L1569.8,140.5 L1570.4,142.3 L1570.9,144.1 L1571.4,146.0 L1572.0,147.9 L1572.5,150.1 L1573.0,152.3 L1573.6,154.8 L1574.2,157.5 L1574.5,159.1 L1574.9,160.8 L1575.2,162.5 L1575.5,164.3 L1575.8,166.1 L1576.2,168.0 L1576.5,170.0 L1576.8,172.0 L1577.1,174.0 L1577.4,176.1 L1577.7,178.1 L1578.1,180.2 L1578.4,182.4 L1578.7,184.5 L1579.0,186.7 L1579.4,188.8 L1579.7,191.0 L1580.0,193.2 L1580.4,195.3 L1580.7,197.5 L1581.1,199.6 L1581.5,201.7 L1581.8,203.8 L1582.2,205.9 L1582.6,207.9 L1583.0,209.9 L1583.4,212.0 L1583.8,214.1 L1584.2,216.2 L1584.7,218.4 L1585.1,220.5 L1585.5,222.7 L1586.0,224.9 L1586.4,227.1 L1586.9,229.2 L1587.3,231.4 L1587.8,233.6 L1588.3,235.7 L1588.7,237.8 L1589.2,239.9 L1589.7,241.9 L1590.1,244.0 L1590.6,245.9 L1591.1,247.9 L1591.5,249.7 L1592.0,251.6 L1592.4,253.3 L1592.9,255.0 L1593.3,256.7 L1593.8,258.2 L1594.7,260.9 L1595.6,263.4 L1596.4,265.6 L1597.3,267.6 L1598.2,269.5 L1599.1,271.2 L1600.0,272.8 L1600.9,274.4 L1601.8,276.1 L1602.6,277.7 L1603.4,279.5 L1604.2,281.3 L1605.0,283.4 L1605.6,285.3 L1606.2,287.1 L1606.8,288.9 L1607.4,290.8 L1608.0,292.6 L1608.5,294.5 L1609.0,296.4 L1609.5,298.4 L1610.1,300.4 L1610.6,302.5 L1611.1,304.6 L1611.7,306.9 L1612.2,309.2 L1612.8,311.6 L1613.4,314.2 L1613.8,315.9 L1614.2,317.7 L1614.6,319.6 L1615.0,321.6 L1615.4,323.6 L1615.8,325.7 L1616.2,327.9 L1616.6,330.1 L1617.0,332.3 L1617.4,334.5 L1617.8,336.8 L1618.2,339.1 L1618.6,341.3 L1619.0,343.5 L1619.5,345.7 L1619.9,347.8 L1620.3,349.9 L1620.7,351.9 L1621.1,353.8 L1621.6,355.6 L1622.0,357.3 L1622.4,359.0 L1622.8,360.4 L1623.2,361.8 L1624.4,365.2 L1625.7,367.8 L1626.9,369.7 L1628.1,371.2 L1629.3,372.3 L1630.6,373.4 L1631.8,374.5 L1633.0,375.8 L1634.6,377.9 L1636.3,380.2 L1637.9,382.3 L1639.6,384.1 L1641.2,385.2 L1642.7,385.5 L1644.0,385.0 L1645.2,384.1 L1646.5,382.7 L1647.7,380.8 L1648.8,378.6 L1650.0,375.9 L1651.1,373.0 L1651.6,371.6 L1652.1,370.2 L1652.6,368.8 L1653.0,367.3 L1653.5,365.9 L1653.9,364.3 L1654.4,362.6 L1654.8,360.8 L1655.3,358.8 L1655.7,356.7 L1656.2,354.3 L1656.6,351.7 L1657.1,348.8 L1657.6,345.7 L1658.1,342.2 L1658.3,340.8 L1658.5,339.2 L1658.7,337.6 L1658.9,335.9 L1659.1,334.1 L1659.3,332.3 L1659.6,330.3 L1659.8,328.4 L1660.0,326.3 L1660.2,324.2 L1660.4,322.1 L1660.7,319.9 L1660.9,317.7 L1661.1,315.5 L1661.4,313.2 L1661.6,310.9 L1661.8,308.6 L1662.0,306.3 L1662.3,304.0 L1662.5,301.7 L1662.7,299.3 L1663.0,297.0 L1663.2,294.7 L1663.4,292.4 L1663.6,290.2 L1663.9,288.0 L1664.1,285.8 L1664.3,283.6 L1664.5,281.5 L1664.7,279.4 L1664.9,277.4 L1665.1,275.4 L1665.3,273.6 L1665.5,271.7 L1665.7,270.0 L1665.9,268.3 L1666.1,266.7 L1666.3,265.2 L1666.5,263.8 L1667.0,260.2 L1667.4,257.1 L1667.9,254.3 L1668.3,251.8 L1668.7,249.7 L1669.1,247.7 L1669.5,246.0 L1669.8,244.4 L1670.2,243.0 L1670.6,241.6 L1671.0,240.2 L1671.3,238.9 L1671.7,237.4 L1672.1,235.9 L1672.8,233.1 L1673.5,230.2 L1674.2,227.5 L1674.9,225.0 L1675.6,222.8 L1676.3,221.0 L1677.0,219.7 L1677.7,219.0 L1678.6,218.9 L1679.6,219.6 L1680.5,221.2 L1681.4,223.4 L1682.4,226.5 L1683.3,230.3 L1683.6,231.7 L1683.9,233.3 L1684.2,235.1 L1684.5,237.0 L1684.8,239.0 L1685.1,241.1 L1685.4,243.3 L1685.7,245.5 L1686.0,247.8 L1686.2,250.1 L1686.5,252.5 L1686.8,254.8 L1687.1,257.1 L1687.4,259.4 L1687.7,261.6 L1688.0,263.7 L1688.3,265.7 L1688.6,267.6 L1688.9,269.4 L1689.4,272.0 L1689.8,274.6 L1690.3,277.1 L1690.7,279.5 L1691.2,281.7 L1691.6,283.9 L1692.1,286.0 L1692.5,288.0 L1693.0,289.8 L1693.5,291.5 L1694.0,293.1 L1694.5,294.6 L1695.8,297.6 L1697.1,300.0 L1698.5,301.7 L1700.0,302.7 L1701.5,303.0 L1703.1,302.5 L1704.8,301.3 L1706.6,299.4 L1708.3,297.1 L1709.9,294.6 L1710.8,293.1 L1711.6,291.4 L1712.5,289.5 L1713.3,287.6 L1714.2,285.5 L1714.9,283.5 L1715.7,281.5 L1716.3,279.6 L1716.9,277.8 L1717.5,275.5 L1718.0,273.2 L1718.5,270.9 L1718.8,268.7 L1719.1,266.7 L1719.3,265.0 L1719.5,263.8" fill="none" stroke="#ff0000" stroke-width="6.6" stroke-linejoin="round" stroke-linecap="round"/>
<rect x="1164.5" y="225.5" width="28.5" height="170" fill="rgb(0,255,0)" fill-opacity="0.4"/>
<rect x="1217" y="151.6" width="29" height="169.2" fill="rgb(115,255,255)" fill-opacity="0.39"/>
<path d="M1649.2,1195.3 L1663.6,1132.6 M1649.2,1147 L1663.6,1132.6 L1670.9,1151.7" fill="none" stroke="#4472c4" stroke-width="2.2" stroke-linecap="round" stroke-linejoin="round"/>
<rect x="129.8" y="24.7" width="1594.8" height="1404.5" fill="none" stroke="#000" stroke-width="6.8"/>
<path d="M351.3,1400 V1429 M572.8,1400 V1429 M794.3,1400 V1429 M1015.8,1400 V1429 M1237.3,1400 V1429 M1458.8,1400 V1429 M1680.3,1400 V1429" stroke="#000" stroke-width="7.2" fill="none"/>
<path d="M240.6,1415 V1429 M462.1,1415 V1429 M683.5,1415 V1429 M905.0,1415 V1429 M1126.5,1415 V1429 M1348.0,1415 V1429 M1569.5,1415 V1429" stroke="#000" stroke-width="5.6" fill="none"/>
<text transform="matrix(0.6393,0,0,0.6648,340.94,1061.04)" font-size="100" font-family="Liberation Sans, sans-serif">3415</text>
<text transform="matrix(0.6451,0,0,0.6577,494.97,813.74)" font-size="100" font-family="Liberation Sans, sans-serif">2975</text>
<text transform="matrix(0.6407,0,0,0.6704,324.54,1316.03)" font-size="100" font-family="Liberation Sans, sans-serif">3386</text>
<text transform="matrix(0.6362,0,0,0.6732,1003.31,1315.93)" font-size="100" font-family="Liberation Sans, sans-serif">1735</text>
<text transform="matrix(0.6357,0,0,0.6606,1165.41,1331.74)" font-size="100" font-family="Liberation Sans, sans-serif">1618</text>
<text transform="matrix(0.6367,0,0,0.6634,1412.21,1374.24)" font-size="100" font-family="Liberation Sans, sans-serif">1050</text>
<text transform="matrix(0.6300,0,0,0.6592,1442.56,1198.84)" font-size="100" font-family="Liberation Sans, sans-serif">1100</text>
<text transform="matrix(0.6386,0,0,0.6662,1611.05,1121.43)" font-size="100" font-family="Liberation Sans, sans-serif">572</text>
<text transform="matrix(0.6376,0,0,0.6690,1051.60,594.13)" font-size="100" font-family="Liberation Sans, sans-serif">1640</text>
<text transform="matrix(0.6319,0,0,0.6606,1213.64,607.24)" font-size="100" font-family="Liberation Sans, sans-serif">1380</text>
<text transform="matrix(0.6371,0,0,0.6732,1588.85,695.73)" font-size="100" font-family="Liberation Sans, sans-serif">585</text>
<text transform="matrix(0.6310,0,0,0.6676,1443.15,781.53)" font-size="100" font-family="Liberation Sans, sans-serif">1050</text>
<text transform="matrix(0.5981,0,0,0.6732,1327.02,865.53)" font-size="100" font-family="Liberation Sans, sans-serif">1091</text>
<text transform="matrix(0.6290,0,0,0.6521,1092.77,895.45)" font-size="100" font-family="Liberation Sans, sans-serif">1630</text>
<text transform="matrix(0.6357,0,0,0.6648,1239.31,309.64)" font-size="100" font-family="Liberation Sans, sans-serif">1520</text>
<text transform="matrix(0.7013,0,0,0.6562,49.20,1504.99)" font-size="100" font-family="Liberation Sans, sans-serif" font-weight="bold" stroke="#000" stroke-width="3.2" stroke-linejoin="round" letter-spacing="6">4000</text>
<text transform="matrix(0.6966,0,0,0.6562,262.70,1504.99)" font-size="100" font-family="Liberation Sans, sans-serif" font-weight="bold" stroke="#000" stroke-width="3.2" stroke-linejoin="round" letter-spacing="6">3500</text>
<text transform="matrix(0.7025,0,0,0.6562,486.10,1504.99)" font-size="100" font-family="Liberation Sans, sans-serif" font-weight="bold" stroke="#000" stroke-width="3.2" stroke-linejoin="round" letter-spacing="6">3000</text>
<text transform="matrix(0.7055,0,0,0.6562,707.19,1504.99)" font-size="100" font-family="Liberation Sans, sans-serif" font-weight="bold" stroke="#000" stroke-width="3.2" stroke-linejoin="round" letter-spacing="6">2500</text>
<text transform="matrix(0.7085,0,0,0.6562,929.88,1504.99)" font-size="100" font-family="Liberation Sans, sans-serif" font-weight="bold" stroke="#000" stroke-width="3.2" stroke-linejoin="round" letter-spacing="6">2000</text>
<text transform="matrix(0.7077,0,0,0.6562,1153.66,1504.99)" font-size="100" font-family="Liberation Sans, sans-serif" font-weight="bold" stroke="#000" stroke-width="3.2" stroke-linejoin="round" letter-spacing="6">1500</text>
<text transform="matrix(0.7112,0,0,0.6562,1365.54,1504.99)" font-size="100" font-family="Liberation Sans, sans-serif" font-weight="bold" stroke="#000" stroke-width="3.2" stroke-linejoin="round" letter-spacing="6">1000</text>
<text transform="matrix(0.7138,0,0,0.6562,1621.77,1504.99)" font-size="100" font-family="Liberation Sans, sans-serif" font-weight="bold" stroke="#000" stroke-width="3.2" stroke-linejoin="round" letter-spacing="6">500</text>
<text transform="matrix(0.6267,0,0,0.5551,902.17,247.23)" font-size="100" font-family="Liberation Sans, sans-serif" font-weight="bold" stroke="#000" stroke-width="4.2" stroke-linejoin="round" letter-spacing="4">amide</text>
<text transform="matrix(0.6251,0,0,0.5436,1161.77,114.37)" font-size="100" font-family="Liberation Sans, sans-serif" font-weight="bold" stroke="#000" stroke-width="4.2" stroke-linejoin="round" letter-spacing="4">amide</text>
<text transform="matrix(0.5477,0,0,0.5792,1096.46,247.52)" font-size="100" font-family="Liberation Serif, Noto Serif CJK SC, serif" font-weight="900" stroke="#000" stroke-width="3">Ⅰ</text>
<text transform="matrix(0.6197,0,0,0.5740,1352.46,115.13)" font-size="100" font-family="Liberation Serif, Noto Serif CJK SC, serif" font-weight="900" stroke="#000" stroke-width="3">Ⅱ</text>
<text transform="matrix(0.7473,0,0,0.6603,538.29,1607.82)" font-size="100" font-family="Liberation Sans, sans-serif" font-weight="bold" stroke="#000" stroke-width="3.5" stroke-linejoin="round" letter-spacing="3">Wavenumber</text>
<text transform="matrix(0.6833,0,0,0.6812,1048.27,1608.61)" font-size="100" font-family="Liberation Sans, sans-serif" font-weight="bold" stroke="#000" stroke-width="2.5" stroke-linejoin="round" letter-spacing="0">(</text>
<text transform="matrix(0.7872,0,0,0.6492,1074.83,1607.65)" font-size="100" font-family="Liberation Sans, sans-serif" font-weight="bold" stroke="#000" stroke-width="3.5" stroke-linejoin="round" letter-spacing="3">cm</text>
<text transform="matrix(0.4904,0,0,0.6308,1190.83,1592.43)" font-size="100" font-family="Liberation Sans, sans-serif" font-weight="bold" stroke="#000" stroke-width="2" stroke-linejoin="round" letter-spacing="0">−</text>
<text transform="matrix(0.3717,0,0,0.4547,1223.28,1586.74)" font-size="100" font-family="Liberation Sans, sans-serif" font-weight="bold" stroke="#000" stroke-width="7" stroke-linejoin="round" letter-spacing="0">1</text>
<text transform="matrix(0.6645,0,0,0.6812,1255.46,1608.61)" font-size="100" font-family="Liberation Sans, sans-serif" font-weight="bold" stroke="#000" stroke-width="2.5" stroke-linejoin="round" letter-spacing="0">)</text>
<text transform="translate(72.07,1074.23) rotate(-90) scale(0.7732,0.6449)" font-size="100" font-family="Liberation Sans, sans-serif" font-weight="bold" stroke="#000" stroke-width="3.5" stroke-linejoin="round" letter-spacing="3">Transmittance</text>
<text transform="translate(446.80,339.60) rotate(-23.962) scale(1.0087,1.0000) translate(-103.78,0)" font-family="Liberation Sans, sans-serif" font-weight="bold" font-size="64"><tspan>(d) Fe</tspan><tspan font-size="41.0" font-weight="normal" stroke="#000" stroke-width="0.9" dy="14.5">3</tspan><tspan dy="-14.5">O</tspan><tspan font-size="41.0" font-weight="normal" stroke="#000" stroke-width="0.9" dy="14.5">4</tspan><tspan dy="-14.5">@SiO</tspan><tspan font-size="41.0" font-weight="normal" stroke="#000" stroke-width="0.9" dy="14.5">2</tspan><tspan dy="-14.5">–GO–PLD</tspan></text>
<text transform="translate(638.40,505.00) rotate(-20.972) scale(0.9862,1.0000) translate(-102.63,0)" font-family="Liberation Sans, sans-serif" font-weight="bold" font-size="65.5"><tspan>(c) Fe</tspan><tspan font-size="41.9" font-weight="normal" stroke="#000" stroke-width="0.9" dy="14.5">3</tspan><tspan dy="-14.5">O</tspan><tspan font-size="41.9" font-weight="normal" stroke="#000" stroke-width="0.9" dy="14.5">4</tspan><tspan dy="-14.5">@SiO</tspan><tspan font-size="41.9" font-weight="normal" stroke="#000" stroke-width="0.9" dy="14.5">2</tspan><tspan dy="-14.5">–GO</tspan></text>
<text transform="translate(766.20,705.30) rotate(-5.833) scale(0.9712,1.0000) translate(-107.02,0)" font-family="Liberation Sans, sans-serif" font-weight="bold" font-size="66"><tspan>(b) Fe</tspan><tspan font-size="42.2" font-weight="normal" stroke="#000" stroke-width="0.9" dy="14.5">3</tspan><tspan dy="-14.5">O</tspan><tspan font-size="42.2" font-weight="normal" stroke="#000" stroke-width="0.9" dy="14.5">4</tspan><tspan dy="-14.5">@SiO</tspan><tspan font-size="42.2" font-weight="normal" stroke="#000" stroke-width="0.9" dy="14.5">2</tspan></text>
<text transform="translate(737.2,1245.3) rotate(-9.5) translate(-123.5,22.5)" font-family="Liberation Sans, sans-serif" font-weight="bold" font-size="65.5">(a) GO</text>
</svg></body></html>
